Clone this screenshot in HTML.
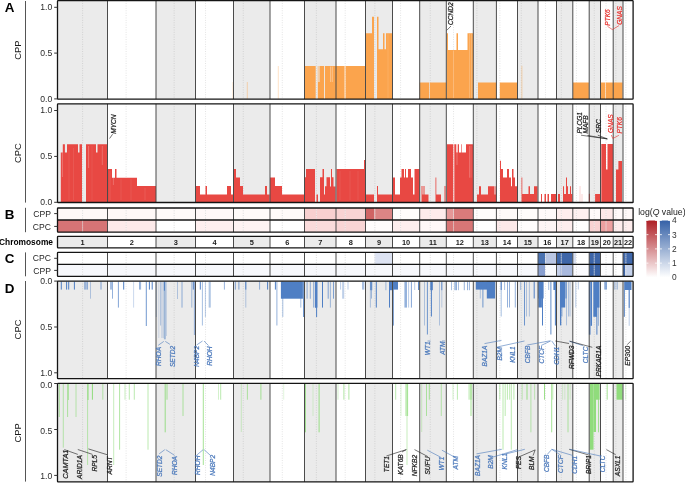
<!DOCTYPE html>
<html><head><meta charset="utf-8"><style>html,body{margin:0;padding:0;background:#fff;overflow:hidden}svg{display:block;will-change:transform}</style></head>
<body>
<svg width="685" height="483" viewBox="0 0 685 483" style="font-family:'Liberation Sans',sans-serif">
<rect x="0" y="0" width="685" height="483" fill="#fff"/>
<text x="4.8" y="11.9" font-size="13.4" fill="#000" text-anchor="start" font-weight="bold" font-style="normal">A</text>
<text x="4.8" y="218.9" font-size="13.4" fill="#000" text-anchor="start" font-weight="bold" font-style="normal">B</text>
<text x="4.8" y="263" font-size="13.4" fill="#000" text-anchor="start" font-weight="bold" font-style="normal">C</text>
<text x="4.8" y="292.8" font-size="13.4" fill="#000" text-anchor="start" font-weight="bold" font-style="normal">D</text>
<line x1="25.5" y1="1" x2="25.5" y2="202.6" stroke="#555" stroke-width="1"/>
<line x1="25.5" y1="207.8" x2="25.5" y2="232.2" stroke="#555" stroke-width="1"/>
<line x1="25.5" y1="252.4" x2="25.5" y2="276.3" stroke="#555" stroke-width="1"/>
<line x1="25.5" y1="281" x2="25.5" y2="481.6" stroke="#555" stroke-width="1"/>
<text transform="translate(20.88,50.2) rotate(-90)" font-size="9.4" fill="#1a1a1a" text-anchor="middle" font-weight="normal" font-style="normal">CPP</text>
<text transform="translate(20.88,153.1) rotate(-90)" font-size="9.4" fill="#1a1a1a" text-anchor="middle" font-weight="normal" font-style="normal">CPC</text>
<text transform="translate(20.88,329.5) rotate(-90)" font-size="9.4" fill="#1a1a1a" text-anchor="middle" font-weight="normal" font-style="normal">CPC</text>
<text transform="translate(20.88,432.8) rotate(-90)" font-size="9.4" fill="#1a1a1a" text-anchor="middle" font-weight="normal" font-style="normal">CPP</text>
<rect x="57.5" y="0.7" width="50" height="98.4" fill="#ebebeb"/>
<rect x="156" y="0.7" width="39.5" height="98.4" fill="#ebebeb"/>
<rect x="233.5" y="0.7" width="36.5" height="98.4" fill="#ebebeb"/>
<rect x="304.5" y="0.7" width="31.5" height="98.4" fill="#ebebeb"/>
<rect x="365.5" y="0.7" width="27" height="98.4" fill="#ebebeb"/>
<rect x="419.7" y="0.7" width="26.6" height="98.4" fill="#ebebeb"/>
<rect x="473.3" y="0.7" width="23.1" height="98.4" fill="#ebebeb"/>
<rect x="517.5" y="0.7" width="20.5" height="98.4" fill="#ebebeb"/>
<rect x="556.5" y="0.7" width="16.3" height="98.4" fill="#ebebeb"/>
<rect x="589.2" y="0.7" width="11.3" height="98.4" fill="#ebebeb"/>
<rect x="613.2" y="0.7" width="9.8" height="98.4" fill="#ebebeb"/>
<line x1="82.58" y1="0.7" x2="82.58" y2="99.1" stroke="#c4c4c4" stroke-width="0.7" stroke-dasharray="0.9 1.5"/>
<line x1="126.11" y1="0.7" x2="126.11" y2="99.1" stroke="#d4d4d4" stroke-width="0.7" stroke-dasharray="0.9 1.5"/>
<line x1="174.15" y1="0.7" x2="174.15" y2="99.1" stroke="#c4c4c4" stroke-width="0.7" stroke-dasharray="0.9 1.5"/>
<line x1="205.52" y1="0.7" x2="205.52" y2="99.1" stroke="#d4d4d4" stroke-width="0.7" stroke-dasharray="0.9 1.5"/>
<line x1="243.26" y1="0.7" x2="243.26" y2="99.1" stroke="#c4c4c4" stroke-width="0.7" stroke-dasharray="0.9 1.5"/>
<line x1="282.3" y1="0.7" x2="282.3" y2="99.1" stroke="#d4d4d4" stroke-width="0.7" stroke-dasharray="0.9 1.5"/>
<line x1="316.36" y1="0.7" x2="316.36" y2="99.1" stroke="#c4c4c4" stroke-width="0.7" stroke-dasharray="0.9 1.5"/>
<line x1="345.19" y1="0.7" x2="345.19" y2="99.1" stroke="#d4d4d4" stroke-width="0.7" stroke-dasharray="0.9 1.5"/>
<line x1="374.87" y1="0.7" x2="374.87" y2="99.1" stroke="#c4c4c4" stroke-width="0.7" stroke-dasharray="0.9 1.5"/>
<line x1="400.57" y1="0.7" x2="400.57" y2="99.1" stroke="#d4d4d4" stroke-width="0.7" stroke-dasharray="0.9 1.5"/>
<line x1="430.28" y1="0.7" x2="430.28" y2="99.1" stroke="#c4c4c4" stroke-width="0.7" stroke-dasharray="0.9 1.5"/>
<line x1="453.52" y1="0.7" x2="453.52" y2="99.1" stroke="#d4d4d4" stroke-width="0.7" stroke-dasharray="0.9 1.5"/>
<line x1="476.89" y1="0.7" x2="476.89" y2="99.1" stroke="#c4c4c4" stroke-width="0.7" stroke-dasharray="0.9 1.5"/>
<line x1="499.86" y1="0.7" x2="499.86" y2="99.1" stroke="#d4d4d4" stroke-width="0.7" stroke-dasharray="0.9 1.5"/>
<line x1="521.3" y1="0.7" x2="521.3" y2="99.1" stroke="#c4c4c4" stroke-width="0.7" stroke-dasharray="0.9 1.5"/>
<line x1="545.49" y1="0.7" x2="545.49" y2="99.1" stroke="#d4d4d4" stroke-width="0.7" stroke-dasharray="0.9 1.5"/>
<line x1="561.32" y1="0.7" x2="561.32" y2="99.1" stroke="#c4c4c4" stroke-width="0.7" stroke-dasharray="0.9 1.5"/>
<line x1="576.41" y1="0.7" x2="576.41" y2="99.1" stroke="#d4d4d4" stroke-width="0.7" stroke-dasharray="0.9 1.5"/>
<line x1="594.26" y1="0.7" x2="594.26" y2="99.1" stroke="#c4c4c4" stroke-width="0.7" stroke-dasharray="0.9 1.5"/>
<line x1="606.04" y1="0.7" x2="606.04" y2="99.1" stroke="#d4d4d4" stroke-width="0.7" stroke-dasharray="0.9 1.5"/>
<line x1="615.89" y1="0.7" x2="615.89" y2="99.1" stroke="#c4c4c4" stroke-width="0.7" stroke-dasharray="0.9 1.5"/>
<line x1="625.89" y1="0.7" x2="625.89" y2="99.1" stroke="#d4d4d4" stroke-width="0.7" stroke-dasharray="0.9 1.5"/>
<path d="M305 98.9H315.7V66H305ZM317.8 98.9H318.4V66H317.8ZM318.4 98.9H319.5V82H318.4ZM319.5 98.9H324V66H319.5ZM324.9 98.9H335.8V66H324.9ZM335.8 98.9H344.6V66H335.8ZM345.5 98.9H365.3V66H345.5ZM365.6 98.9H372V33.3H365.6ZM372 98.9H374V16.7H372ZM377 98.9H378.5V16.7H377ZM378.5 98.9H383V49.3H378.5ZM383 98.9H384.5V33.3H383ZM384.5 98.9H386V49.3H384.5ZM386 98.9H392.5V33.3H386ZM419.6 98.9H429V82.4H419.6ZM429.7 98.9H446.3V82.4H429.7ZM446.8 98.9H448V33.3H446.8ZM448 98.9H456.5V49.9H448ZM456.5 98.9H458V33.3H456.5ZM458 98.9H467.5V49.9H458ZM467.5 98.9H473.3V33.3H467.5ZM478 98.9H496.7V82.4H478ZM499.8 98.9H517.7V82.4H499.8ZM573 98.9H588.9V82.4H573ZM600.4 98.9H605V82.4H600.4ZM605.6 98.9H622.6V82.4H605.6Z" fill="#fba44d"/>
<line x1="521.9" y1="98.9" x2="521.9" y2="65.8" stroke="#fba44d" stroke-width="0.8" stroke-opacity="0.5"/>
<line x1="278.3" y1="98.9" x2="278.3" y2="66" stroke="#fba44d" stroke-width="0.8" stroke-opacity="0.4"/>
<line x1="232.8" y1="98.9" x2="232.8" y2="82" stroke="#fba44d" stroke-width="0.8" stroke-opacity="0.3"/>
<line x1="247.3" y1="98.9" x2="247.3" y2="82" stroke="#fba44d" stroke-width="0.8" stroke-opacity="0.5"/>
<line x1="330.6" y1="66.5" x2="330.6" y2="82" stroke="#ffffff" stroke-width="0.8" stroke-opacity="0.45"/>
<line x1="332.3" y1="66.5" x2="332.3" y2="82" stroke="#ffffff" stroke-width="0.8" stroke-opacity="0.45"/>
<line x1="388" y1="34" x2="388" y2="98" stroke="#ffffff" stroke-width="0.8" stroke-opacity="0.15"/>
<line x1="469.5" y1="34" x2="469.5" y2="98" stroke="#ffffff" stroke-width="0.8" stroke-opacity="0.25"/>
<line x1="471.5" y1="34" x2="471.5" y2="98" stroke="#ffffff" stroke-width="0.8" stroke-opacity="0.25"/>
<line x1="453.5" y1="50.5" x2="453.5" y2="98" stroke="#ffffff" stroke-width="0.8" stroke-opacity="0.3"/>
<line x1="107.5" y1="0.7" x2="107.5" y2="99.1" stroke="#4b4b4b" stroke-width="1"/>
<line x1="156" y1="0.7" x2="156" y2="99.1" stroke="#4b4b4b" stroke-width="1"/>
<line x1="195.5" y1="0.7" x2="195.5" y2="99.1" stroke="#4b4b4b" stroke-width="1"/>
<line x1="233.5" y1="0.7" x2="233.5" y2="99.1" stroke="#4b4b4b" stroke-width="1"/>
<line x1="270" y1="0.7" x2="270" y2="99.1" stroke="#4b4b4b" stroke-width="1"/>
<line x1="304.5" y1="0.7" x2="304.5" y2="99.1" stroke="#4b4b4b" stroke-width="1"/>
<line x1="336" y1="0.7" x2="336" y2="99.1" stroke="#4b4b4b" stroke-width="1"/>
<line x1="365.5" y1="0.7" x2="365.5" y2="99.1" stroke="#4b4b4b" stroke-width="1"/>
<line x1="392.5" y1="0.7" x2="392.5" y2="99.1" stroke="#4b4b4b" stroke-width="1"/>
<line x1="419.7" y1="0.7" x2="419.7" y2="99.1" stroke="#4b4b4b" stroke-width="1"/>
<line x1="446.3" y1="0.7" x2="446.3" y2="99.1" stroke="#4b4b4b" stroke-width="1"/>
<line x1="473.3" y1="0.7" x2="473.3" y2="99.1" stroke="#4b4b4b" stroke-width="1"/>
<line x1="496.4" y1="0.7" x2="496.4" y2="99.1" stroke="#4b4b4b" stroke-width="1"/>
<line x1="517.5" y1="0.7" x2="517.5" y2="99.1" stroke="#4b4b4b" stroke-width="1"/>
<line x1="538" y1="0.7" x2="538" y2="99.1" stroke="#4b4b4b" stroke-width="1"/>
<line x1="556.5" y1="0.7" x2="556.5" y2="99.1" stroke="#4b4b4b" stroke-width="1"/>
<line x1="572.8" y1="0.7" x2="572.8" y2="99.1" stroke="#4b4b4b" stroke-width="1"/>
<line x1="589.2" y1="0.7" x2="589.2" y2="99.1" stroke="#4b4b4b" stroke-width="1"/>
<line x1="600.5" y1="0.7" x2="600.5" y2="99.1" stroke="#4b4b4b" stroke-width="1"/>
<line x1="613.2" y1="0.7" x2="613.2" y2="99.1" stroke="#4b4b4b" stroke-width="1"/>
<line x1="623" y1="0.7" x2="623" y2="99.1" stroke="#4b4b4b" stroke-width="1"/>
<rect x="57.5" y="0.7" width="575.6" height="98.4" fill="none" stroke="#141414" stroke-width="1.3" rx="0.6"/>
<line x1="54.2" y1="7.3" x2="57.5" y2="7.3" stroke="#333" stroke-width="1"/>
<text transform="translate(52.2,10.08) scale(0.88,1)" font-size="9.8" fill="#2b2b2b" text-anchor="end" font-weight="normal" font-style="normal">1.0</text>
<line x1="54.2" y1="53.1" x2="57.5" y2="53.1" stroke="#333" stroke-width="1"/>
<text transform="translate(52.2,55.88) scale(0.88,1)" font-size="9.8" fill="#2b2b2b" text-anchor="end" font-weight="normal" font-style="normal">0.5</text>
<line x1="54.2" y1="98.9" x2="57.5" y2="98.9" stroke="#333" stroke-width="1"/>
<text transform="translate(52.2,101.68) scale(0.88,1)" font-size="9.8" fill="#2b2b2b" text-anchor="end" font-weight="normal" font-style="normal">0.0</text>
<text transform="translate(453.1,25) rotate(-90)" font-size="6.6" fill="#1a1a1a" text-anchor="start" font-weight="normal" font-style="italic" stroke="#1a1a1a" stroke-width="0.22">CCND2</text>
<path d="M451 26 L446.8 30.3" fill="none" stroke="#1a1a1a" stroke-width="0.6"/>
<text transform="translate(610.3,25.7) rotate(-90)" font-size="6.6" fill="#e8302c" text-anchor="start" font-weight="normal" font-style="italic" stroke="#e8302c" stroke-width="0.22">PTK6</text>
<text transform="translate(621.9,24.8) rotate(-90)" font-size="6.6" fill="#e8302c" text-anchor="start" font-weight="normal" font-style="italic" stroke="#e8302c" stroke-width="0.22">GNAS</text>
<path d="M607.5 26.3 L612.4 29.6 L619 25.6" fill="none" stroke="#e8302c" stroke-width="0.6"/>
<rect x="57.5" y="103.9" width="50" height="98.6" fill="#ebebeb"/>
<rect x="156" y="103.9" width="39.5" height="98.6" fill="#ebebeb"/>
<rect x="233.5" y="103.9" width="36.5" height="98.6" fill="#ebebeb"/>
<rect x="304.5" y="103.9" width="31.5" height="98.6" fill="#ebebeb"/>
<rect x="365.5" y="103.9" width="27" height="98.6" fill="#ebebeb"/>
<rect x="419.7" y="103.9" width="26.6" height="98.6" fill="#ebebeb"/>
<rect x="473.3" y="103.9" width="23.1" height="98.6" fill="#ebebeb"/>
<rect x="517.5" y="103.9" width="20.5" height="98.6" fill="#ebebeb"/>
<rect x="556.5" y="103.9" width="16.3" height="98.6" fill="#ebebeb"/>
<rect x="589.2" y="103.9" width="11.3" height="98.6" fill="#ebebeb"/>
<rect x="613.2" y="103.9" width="9.8" height="98.6" fill="#ebebeb"/>
<line x1="82.58" y1="103.9" x2="82.58" y2="202.5" stroke="#c4c4c4" stroke-width="0.7" stroke-dasharray="0.9 1.5"/>
<line x1="126.11" y1="103.9" x2="126.11" y2="202.5" stroke="#d4d4d4" stroke-width="0.7" stroke-dasharray="0.9 1.5"/>
<line x1="174.15" y1="103.9" x2="174.15" y2="202.5" stroke="#c4c4c4" stroke-width="0.7" stroke-dasharray="0.9 1.5"/>
<line x1="205.52" y1="103.9" x2="205.52" y2="202.5" stroke="#d4d4d4" stroke-width="0.7" stroke-dasharray="0.9 1.5"/>
<line x1="243.26" y1="103.9" x2="243.26" y2="202.5" stroke="#c4c4c4" stroke-width="0.7" stroke-dasharray="0.9 1.5"/>
<line x1="282.3" y1="103.9" x2="282.3" y2="202.5" stroke="#d4d4d4" stroke-width="0.7" stroke-dasharray="0.9 1.5"/>
<line x1="316.36" y1="103.9" x2="316.36" y2="202.5" stroke="#c4c4c4" stroke-width="0.7" stroke-dasharray="0.9 1.5"/>
<line x1="345.19" y1="103.9" x2="345.19" y2="202.5" stroke="#d4d4d4" stroke-width="0.7" stroke-dasharray="0.9 1.5"/>
<line x1="374.87" y1="103.9" x2="374.87" y2="202.5" stroke="#c4c4c4" stroke-width="0.7" stroke-dasharray="0.9 1.5"/>
<line x1="400.57" y1="103.9" x2="400.57" y2="202.5" stroke="#d4d4d4" stroke-width="0.7" stroke-dasharray="0.9 1.5"/>
<line x1="430.28" y1="103.9" x2="430.28" y2="202.5" stroke="#c4c4c4" stroke-width="0.7" stroke-dasharray="0.9 1.5"/>
<line x1="453.52" y1="103.9" x2="453.52" y2="202.5" stroke="#d4d4d4" stroke-width="0.7" stroke-dasharray="0.9 1.5"/>
<line x1="476.89" y1="103.9" x2="476.89" y2="202.5" stroke="#c4c4c4" stroke-width="0.7" stroke-dasharray="0.9 1.5"/>
<line x1="499.86" y1="103.9" x2="499.86" y2="202.5" stroke="#d4d4d4" stroke-width="0.7" stroke-dasharray="0.9 1.5"/>
<line x1="521.3" y1="103.9" x2="521.3" y2="202.5" stroke="#c4c4c4" stroke-width="0.7" stroke-dasharray="0.9 1.5"/>
<line x1="545.49" y1="103.9" x2="545.49" y2="202.5" stroke="#d4d4d4" stroke-width="0.7" stroke-dasharray="0.9 1.5"/>
<line x1="561.32" y1="103.9" x2="561.32" y2="202.5" stroke="#c4c4c4" stroke-width="0.7" stroke-dasharray="0.9 1.5"/>
<line x1="576.41" y1="103.9" x2="576.41" y2="202.5" stroke="#d4d4d4" stroke-width="0.7" stroke-dasharray="0.9 1.5"/>
<line x1="594.26" y1="103.9" x2="594.26" y2="202.5" stroke="#c4c4c4" stroke-width="0.7" stroke-dasharray="0.9 1.5"/>
<line x1="606.04" y1="103.9" x2="606.04" y2="202.5" stroke="#d4d4d4" stroke-width="0.7" stroke-dasharray="0.9 1.5"/>
<line x1="615.89" y1="103.9" x2="615.89" y2="202.5" stroke="#c4c4c4" stroke-width="0.7" stroke-dasharray="0.9 1.5"/>
<line x1="625.89" y1="103.9" x2="625.89" y2="202.5" stroke="#d4d4d4" stroke-width="0.7" stroke-dasharray="0.9 1.5"/>
<path d="M60.8 202.3H62.8V152.4H60.8ZM62.8 202.3H64.9V144.2H62.8ZM64.9 202.3H67V152.4H64.9ZM67 202.3H78V144.2H67ZM78 202.3H79.5V152.4H78ZM79.5 202.3H82V144.2H79.5ZM86 202.3H96V144.2H86ZM96 202.3H97.5V152.4H96ZM97.5 202.3H107.5V144.2H97.5ZM108 202.3H112V169.1H108ZM112 202.3H115V177.8H112ZM115 202.3H116.5V169.1H115ZM116.5 202.3H137V177.8H116.5ZM137 202.3H156V186H137ZM195.5 202.3H200V186H195.5ZM200 202.3H205.5V194.5H200ZM205.5 202.3H207V186H205.5ZM207 202.3H227V194.5H207ZM227 202.3H231V186H227ZM231 202.3H233.5V194.5H231ZM233.5 202.3H236V169H233.5ZM236 202.3H240V177.4H236ZM240 202.3H243V186H240ZM243 202.3H265V194.5H243ZM265 202.3H267V186H265ZM267 202.3H269.7V194.5H267ZM270 202.3H275V177.4H270ZM275 202.3H282V186H275ZM282 202.3H304.4V194.5H282ZM305 202.3H306V177.3H305ZM306 202.3H315V169.1H306ZM316.5 202.3H318V194.4H316.5ZM320 202.3H322.5V177.3H320ZM322.5 202.3H324V169.1H322.5ZM324 202.3H325V194.4H324ZM325 202.3H326.5V186.2H325ZM326.5 202.3H330V177.3H326.5ZM330 202.3H331V186.4H330ZM331 202.3H332V169.1H331ZM332 202.3H333.5V177.3H332ZM333.5 202.3H335.5V186.4H333.5ZM336.5 202.3H364V169H336.5ZM364 202.3H365.3V160H364ZM365.3 202.3H374V194.5H365.3ZM377 202.3H378V186H377ZM378 202.3H392.5V194.5H378ZM393 202.3H395V177.4H393ZM395 202.3H400V194.5H395ZM400 202.3H401.5V177.4H400ZM401.5 202.3H404V169.1H401.5ZM404 202.3H405V177.4H404ZM405 202.3H406V169.1H405ZM406 202.3H408V177.4H406ZM408 202.3H411V169.1H408ZM411 202.3H413V177.4H411ZM413 202.3H414.5V194.5H413ZM414.5 202.3H419.6V169.1H414.5ZM421.5 202.3H422.5V186H421.5ZM422.5 202.3H423.5V194.5H422.5ZM423.5 202.3H424.5V186H423.5ZM424.5 202.3H428.5V194.5H424.5ZM435.5 202.3H436.3V177.4H435.5ZM436.3 202.3H441V194.5H436.3ZM444.5 202.3H445.5V186H444.5ZM447 202.3H453.3V144.2H447ZM454.3 202.3H456.3V144.2H454.3ZM456.3 202.3H457.7V152.4H456.3ZM457.7 202.3H459V144.2H457.7ZM459 202.3H461.2V152.4H459ZM461.2 202.3H461.8V144.2H461.2ZM461.8 202.3H466V152.4H461.8ZM466 202.3H473.3V144.2H466ZM477 202.3H479V194.4H477ZM479 202.3H481V186.2H479ZM481 202.3H488V194.4H481ZM488 202.3H494.5V186.2H488ZM494.5 202.3H495.5V194.4H494.5ZM495.5 202.3H496.5V186.2H495.5ZM500 202.3H501V160.8H500ZM501 202.3H503V169.1H501ZM503 202.3H505.5V177.4H503ZM505.5 202.3H507V177.4H505.5ZM507 202.3H509V169.1H507ZM509 202.3H511V177.4H509ZM511 202.3H512V186.2H511ZM512 202.3H513.5V169.1H512ZM513.5 202.3H515V177.4H513.5ZM515 202.3H517.5V186.2H515ZM521.5 202.3H522.3V177.4H521.5ZM522.3 202.3H528.5V194.1H522.3ZM528.5 202.3H530V186.2H528.5ZM530 202.3H534V194.1H530ZM534 202.3H537.5V186.2H534ZM541 202.3H542V194.1H541ZM544.5 202.3H546V194.1H544.5ZM547.5 202.3H549V194.1H547.5ZM551 202.3H556V194.1H551ZM558 202.3H560V194.1H558ZM563 202.3H564V186.2H563ZM564 202.3H566V194.1H564ZM566 202.3H567V177.4H566ZM567 202.3H568V186.2H567ZM568 202.3H570V194.1H568ZM570 202.3H571V186.2H570ZM571 202.3H572.3V194.1H571ZM588.9 202.3H590V193.7H588.9ZM595.1 202.3H600.4V194H595.1ZM601.3 202.3H606V144H601.3ZM606 202.3H607.5V169.6H606ZM607.5 202.3H613V144H607.5ZM616 202.3H618.4V169.6H616ZM618.4 202.3H622V161H618.4Z" fill="#e84843"/>
<line x1="62.4" y1="152.4" x2="62.4" y2="177" stroke="#ffffff" stroke-width="0.7" stroke-opacity="0.35"/>
<line x1="69" y1="150" x2="69" y2="200" stroke="#ffffff" stroke-width="0.7" stroke-opacity="0.12"/>
<line x1="73.5" y1="148" x2="73.5" y2="200" stroke="#ffffff" stroke-width="0.7" stroke-opacity="0.12"/>
<line x1="88.6" y1="146" x2="88.6" y2="168" stroke="#ffffff" stroke-width="0.7" stroke-opacity="0.35"/>
<line x1="92" y1="146" x2="92" y2="200" stroke="#ffffff" stroke-width="0.7" stroke-opacity="0.1"/>
<line x1="102.3" y1="146" x2="102.3" y2="165" stroke="#ffffff" stroke-width="0.7" stroke-opacity="0.3"/>
<line x1="110" y1="171" x2="110" y2="200" stroke="#ffffff" stroke-width="0.7" stroke-opacity="0.15"/>
<line x1="113.4" y1="171" x2="113.4" y2="185" stroke="#ffffff" stroke-width="0.7" stroke-opacity="0.3"/>
<line x1="121" y1="179" x2="121" y2="200" stroke="#ffffff" stroke-width="0.7" stroke-opacity="0.12"/>
<line x1="131" y1="179" x2="131" y2="200" stroke="#ffffff" stroke-width="0.7" stroke-opacity="0.12"/>
<line x1="145" y1="188" x2="145" y2="200" stroke="#ffffff" stroke-width="0.7" stroke-opacity="0.15"/>
<line x1="457" y1="153" x2="457" y2="165" stroke="#ffffff" stroke-width="0.7" stroke-opacity="0.35"/>
<line x1="469.5" y1="146" x2="469.5" y2="177.7" stroke="#ffffff" stroke-width="0.7" stroke-opacity="0.3"/>
<line x1="471" y1="146" x2="471" y2="177.7" stroke="#ffffff" stroke-width="0.7" stroke-opacity="0.25"/>
<line x1="340" y1="171" x2="340" y2="200" stroke="#ffffff" stroke-width="0.7" stroke-opacity="0.12"/>
<line x1="350" y1="171" x2="350" y2="200" stroke="#ffffff" stroke-width="0.7" stroke-opacity="0.12"/>
<line x1="358" y1="171" x2="358" y2="200" stroke="#ffffff" stroke-width="0.7" stroke-opacity="0.12"/>
<line x1="580" y1="202.3" x2="580" y2="186" stroke="#e84843" stroke-width="0.8" stroke-opacity="0.3"/>
<line x1="582" y1="202.3" x2="582" y2="194" stroke="#e84843" stroke-width="0.8" stroke-opacity="0.3"/>
<line x1="107.5" y1="103.9" x2="107.5" y2="202.5" stroke="#4b4b4b" stroke-width="1"/>
<line x1="156" y1="103.9" x2="156" y2="202.5" stroke="#4b4b4b" stroke-width="1"/>
<line x1="195.5" y1="103.9" x2="195.5" y2="202.5" stroke="#4b4b4b" stroke-width="1"/>
<line x1="233.5" y1="103.9" x2="233.5" y2="202.5" stroke="#4b4b4b" stroke-width="1"/>
<line x1="270" y1="103.9" x2="270" y2="202.5" stroke="#4b4b4b" stroke-width="1"/>
<line x1="304.5" y1="103.9" x2="304.5" y2="202.5" stroke="#4b4b4b" stroke-width="1"/>
<line x1="336" y1="103.9" x2="336" y2="202.5" stroke="#4b4b4b" stroke-width="1"/>
<line x1="365.5" y1="103.9" x2="365.5" y2="202.5" stroke="#4b4b4b" stroke-width="1"/>
<line x1="392.5" y1="103.9" x2="392.5" y2="202.5" stroke="#4b4b4b" stroke-width="1"/>
<line x1="419.7" y1="103.9" x2="419.7" y2="202.5" stroke="#4b4b4b" stroke-width="1"/>
<line x1="446.3" y1="103.9" x2="446.3" y2="202.5" stroke="#4b4b4b" stroke-width="1"/>
<line x1="473.3" y1="103.9" x2="473.3" y2="202.5" stroke="#4b4b4b" stroke-width="1"/>
<line x1="496.4" y1="103.9" x2="496.4" y2="202.5" stroke="#4b4b4b" stroke-width="1"/>
<line x1="517.5" y1="103.9" x2="517.5" y2="202.5" stroke="#4b4b4b" stroke-width="1"/>
<line x1="538" y1="103.9" x2="538" y2="202.5" stroke="#4b4b4b" stroke-width="1"/>
<line x1="556.5" y1="103.9" x2="556.5" y2="202.5" stroke="#4b4b4b" stroke-width="1"/>
<line x1="572.8" y1="103.9" x2="572.8" y2="202.5" stroke="#4b4b4b" stroke-width="1"/>
<line x1="589.2" y1="103.9" x2="589.2" y2="202.5" stroke="#4b4b4b" stroke-width="1"/>
<line x1="600.5" y1="103.9" x2="600.5" y2="202.5" stroke="#4b4b4b" stroke-width="1"/>
<line x1="613.2" y1="103.9" x2="613.2" y2="202.5" stroke="#4b4b4b" stroke-width="1"/>
<line x1="623" y1="103.9" x2="623" y2="202.5" stroke="#4b4b4b" stroke-width="1"/>
<rect x="57.5" y="103.9" width="575.6" height="98.6" fill="none" stroke="#141414" stroke-width="1.3" rx="0.6"/>
<line x1="54.2" y1="110.5" x2="57.5" y2="110.5" stroke="#333" stroke-width="1"/>
<text transform="translate(52.2,113.28) scale(0.88,1)" font-size="9.8" fill="#2b2b2b" text-anchor="end" font-weight="normal" font-style="normal">1.0</text>
<line x1="54.2" y1="156.4" x2="57.5" y2="156.4" stroke="#333" stroke-width="1"/>
<text transform="translate(52.2,159.18) scale(0.88,1)" font-size="9.8" fill="#2b2b2b" text-anchor="end" font-weight="normal" font-style="normal">0.5</text>
<line x1="54.2" y1="202.3" x2="57.5" y2="202.3" stroke="#333" stroke-width="1"/>
<text transform="translate(52.2,205.08) scale(0.88,1)" font-size="9.8" fill="#2b2b2b" text-anchor="end" font-weight="normal" font-style="normal">0.0</text>
<text transform="translate(116.3,133.8) rotate(-90)" font-size="6.6" fill="#1a1a1a" text-anchor="start" font-weight="normal" font-style="italic" stroke="#1a1a1a" stroke-width="0.22">MYCN</text>
<path d="M112.6 134.2 L109.6 138.5" fill="none" stroke="#1a1a1a" stroke-width="0.6"/>
<text transform="translate(581.9,133.6) rotate(-90)" font-size="6.6" fill="#1a1a1a" text-anchor="start" font-weight="normal" font-style="italic" stroke="#1a1a1a" stroke-width="0.22">PLCG1</text>
<text transform="translate(588.1,133.6) rotate(-90)" font-size="6.6" fill="#1a1a1a" text-anchor="start" font-weight="normal" font-style="italic" stroke="#1a1a1a" stroke-width="0.22">MAFB</text>
<text transform="translate(600.5,133.1) rotate(-90)" font-size="6.6" fill="#1a1a1a" text-anchor="start" font-weight="normal" font-style="italic" stroke="#1a1a1a" stroke-width="0.22">SRC</text>
<path d="M581 135.2 L607.3 138.9" fill="none" stroke="#1a1a1a" stroke-width="0.6"/>
<path d="M587.4 135.4 L607.3 138.9" fill="none" stroke="#1a1a1a" stroke-width="0.6"/>
<path d="M597.8 135.2 L607.3 138.9" fill="none" stroke="#1a1a1a" stroke-width="0.6"/>
<text transform="translate(613,133) rotate(-90)" font-size="6.6" fill="#e8302c" text-anchor="start" font-weight="normal" font-style="italic" stroke="#e8302c" stroke-width="0.22">GNAS</text>
<text transform="translate(621.8,133.6) rotate(-90)" font-size="6.6" fill="#e8302c" text-anchor="start" font-weight="normal" font-style="italic" stroke="#e8302c" stroke-width="0.22">PTK6</text>
<path d="M611.3 135 L612.8 138.5 L618.9 135.3" fill="none" stroke="#e8302c" stroke-width="0.6"/>
<rect x="57.5" y="208" width="50" height="12" fill="#fef8f7"/>
<rect x="107.5" y="208" width="48.5" height="12" fill="#fff8f7"/>
<rect x="156" y="208" width="39.5" height="12" fill="#fffaf9"/>
<rect x="195.5" y="208" width="38" height="12" fill="#fff8f8"/>
<rect x="233.5" y="208" width="36.5" height="12" fill="#fffaf9"/>
<rect x="270" y="208" width="34.5" height="12" fill="#fffaf9"/>
<rect x="304.5" y="208" width="31.5" height="12" fill="#f8d0d0"/>
<rect x="336" y="208" width="29.5" height="12" fill="#f9d3d3"/>
<rect x="365.5" y="208" width="9" height="12" fill="#d06464"/>
<rect x="374.5" y="208" width="18" height="12" fill="#dc8585"/>
<rect x="392.5" y="208" width="27.2" height="12" fill="#fffcfb"/>
<rect x="419.7" y="208" width="26.6" height="12" fill="#fdebeb"/>
<rect x="446.3" y="208" width="7.2" height="12" fill="#e59797"/>
<rect x="453.5" y="208" width="19.8" height="12" fill="#da7b7b"/>
<rect x="473.3" y="208" width="23.1" height="12" fill="#fffcfb"/>
<rect x="496.4" y="208" width="21.1" height="12" fill="#fffaf9"/>
<rect x="517.5" y="208" width="20.5" height="12" fill="#fffcfb"/>
<rect x="538" y="208" width="18.5" height="12" fill="#fffafa"/>
<rect x="556.5" y="208" width="16.3" height="12" fill="#feeeee"/>
<rect x="572.8" y="208" width="16.4" height="12" fill="#fef0f0"/>
<rect x="589.2" y="208" width="11.3" height="12" fill="#fffbfb"/>
<rect x="600.5" y="208" width="12.7" height="12" fill="#fde8e8"/>
<rect x="613.2" y="208" width="9.8" height="12" fill="#fff9f9"/>
<rect x="623" y="208" width="10.1" height="12" fill="#fff9f9"/>
<line x1="82.58" y1="208" x2="82.58" y2="220" stroke="#ffffff" stroke-width="0.9" stroke-opacity="0.45"/>
<line x1="82.58" y1="208" x2="82.58" y2="220" stroke="#c8c8c8" stroke-width="0.7" stroke-dasharray="0.9 1.5"/>
<line x1="126.11" y1="208" x2="126.11" y2="220" stroke="#ffffff" stroke-width="0.9" stroke-opacity="0.45"/>
<line x1="126.11" y1="208" x2="126.11" y2="220" stroke="#c8c8c8" stroke-width="0.7" stroke-dasharray="0.9 1.5"/>
<line x1="174.15" y1="208" x2="174.15" y2="220" stroke="#ffffff" stroke-width="0.9" stroke-opacity="0.45"/>
<line x1="174.15" y1="208" x2="174.15" y2="220" stroke="#c8c8c8" stroke-width="0.7" stroke-dasharray="0.9 1.5"/>
<line x1="205.52" y1="208" x2="205.52" y2="220" stroke="#ffffff" stroke-width="0.9" stroke-opacity="0.45"/>
<line x1="205.52" y1="208" x2="205.52" y2="220" stroke="#c8c8c8" stroke-width="0.7" stroke-dasharray="0.9 1.5"/>
<line x1="243.26" y1="208" x2="243.26" y2="220" stroke="#ffffff" stroke-width="0.9" stroke-opacity="0.45"/>
<line x1="243.26" y1="208" x2="243.26" y2="220" stroke="#c8c8c8" stroke-width="0.7" stroke-dasharray="0.9 1.5"/>
<line x1="282.3" y1="208" x2="282.3" y2="220" stroke="#ffffff" stroke-width="0.9" stroke-opacity="0.45"/>
<line x1="282.3" y1="208" x2="282.3" y2="220" stroke="#c8c8c8" stroke-width="0.7" stroke-dasharray="0.9 1.5"/>
<line x1="316.36" y1="208" x2="316.36" y2="220" stroke="#ffffff" stroke-width="0.9" stroke-opacity="0.45"/>
<line x1="316.36" y1="208" x2="316.36" y2="220" stroke="#c8c8c8" stroke-width="0.7" stroke-dasharray="0.9 1.5"/>
<line x1="345.19" y1="208" x2="345.19" y2="220" stroke="#ffffff" stroke-width="0.9" stroke-opacity="0.45"/>
<line x1="345.19" y1="208" x2="345.19" y2="220" stroke="#c8c8c8" stroke-width="0.7" stroke-dasharray="0.9 1.5"/>
<line x1="374.87" y1="208" x2="374.87" y2="220" stroke="#ffffff" stroke-width="0.9" stroke-opacity="0.45"/>
<line x1="374.87" y1="208" x2="374.87" y2="220" stroke="#c8c8c8" stroke-width="0.7" stroke-dasharray="0.9 1.5"/>
<line x1="400.57" y1="208" x2="400.57" y2="220" stroke="#ffffff" stroke-width="0.9" stroke-opacity="0.45"/>
<line x1="400.57" y1="208" x2="400.57" y2="220" stroke="#c8c8c8" stroke-width="0.7" stroke-dasharray="0.9 1.5"/>
<line x1="430.28" y1="208" x2="430.28" y2="220" stroke="#ffffff" stroke-width="0.9" stroke-opacity="0.45"/>
<line x1="430.28" y1="208" x2="430.28" y2="220" stroke="#c8c8c8" stroke-width="0.7" stroke-dasharray="0.9 1.5"/>
<line x1="453.52" y1="208" x2="453.52" y2="220" stroke="#ffffff" stroke-width="0.9" stroke-opacity="0.45"/>
<line x1="453.52" y1="208" x2="453.52" y2="220" stroke="#c8c8c8" stroke-width="0.7" stroke-dasharray="0.9 1.5"/>
<line x1="476.89" y1="208" x2="476.89" y2="220" stroke="#ffffff" stroke-width="0.9" stroke-opacity="0.45"/>
<line x1="476.89" y1="208" x2="476.89" y2="220" stroke="#c8c8c8" stroke-width="0.7" stroke-dasharray="0.9 1.5"/>
<line x1="499.86" y1="208" x2="499.86" y2="220" stroke="#ffffff" stroke-width="0.9" stroke-opacity="0.45"/>
<line x1="499.86" y1="208" x2="499.86" y2="220" stroke="#c8c8c8" stroke-width="0.7" stroke-dasharray="0.9 1.5"/>
<line x1="521.3" y1="208" x2="521.3" y2="220" stroke="#ffffff" stroke-width="0.9" stroke-opacity="0.45"/>
<line x1="521.3" y1="208" x2="521.3" y2="220" stroke="#c8c8c8" stroke-width="0.7" stroke-dasharray="0.9 1.5"/>
<line x1="545.49" y1="208" x2="545.49" y2="220" stroke="#ffffff" stroke-width="0.9" stroke-opacity="0.45"/>
<line x1="545.49" y1="208" x2="545.49" y2="220" stroke="#c8c8c8" stroke-width="0.7" stroke-dasharray="0.9 1.5"/>
<line x1="561.32" y1="208" x2="561.32" y2="220" stroke="#ffffff" stroke-width="0.9" stroke-opacity="0.45"/>
<line x1="561.32" y1="208" x2="561.32" y2="220" stroke="#c8c8c8" stroke-width="0.7" stroke-dasharray="0.9 1.5"/>
<line x1="576.41" y1="208" x2="576.41" y2="220" stroke="#ffffff" stroke-width="0.9" stroke-opacity="0.45"/>
<line x1="576.41" y1="208" x2="576.41" y2="220" stroke="#c8c8c8" stroke-width="0.7" stroke-dasharray="0.9 1.5"/>
<line x1="594.26" y1="208" x2="594.26" y2="220" stroke="#ffffff" stroke-width="0.9" stroke-opacity="0.45"/>
<line x1="594.26" y1="208" x2="594.26" y2="220" stroke="#c8c8c8" stroke-width="0.7" stroke-dasharray="0.9 1.5"/>
<line x1="606.04" y1="208" x2="606.04" y2="220" stroke="#ffffff" stroke-width="0.9" stroke-opacity="0.45"/>
<line x1="606.04" y1="208" x2="606.04" y2="220" stroke="#c8c8c8" stroke-width="0.7" stroke-dasharray="0.9 1.5"/>
<line x1="615.89" y1="208" x2="615.89" y2="220" stroke="#ffffff" stroke-width="0.9" stroke-opacity="0.45"/>
<line x1="615.89" y1="208" x2="615.89" y2="220" stroke="#c8c8c8" stroke-width="0.7" stroke-dasharray="0.9 1.5"/>
<line x1="625.89" y1="208" x2="625.89" y2="220" stroke="#ffffff" stroke-width="0.9" stroke-opacity="0.45"/>
<line x1="625.89" y1="208" x2="625.89" y2="220" stroke="#c8c8c8" stroke-width="0.7" stroke-dasharray="0.9 1.5"/>
<rect x="57.5" y="220" width="50" height="12.2" fill="#d67475"/>
<rect x="107.5" y="220" width="48.5" height="12.2" fill="#fdeaea"/>
<rect x="156" y="220" width="39.5" height="12.2" fill="#ffffff"/>
<rect x="195.5" y="220" width="38" height="12.2" fill="#feefef"/>
<rect x="233.5" y="220" width="36.5" height="12.2" fill="#fef3f3"/>
<rect x="270" y="220" width="34.5" height="12.2" fill="#ffffff"/>
<rect x="304.5" y="220" width="31.5" height="12.2" fill="#fadbdb"/>
<rect x="336" y="220" width="29.5" height="12.2" fill="#f9d5d5"/>
<rect x="365.5" y="220" width="27" height="12.2" fill="#fffcfc"/>
<rect x="392.5" y="220" width="27.2" height="12.2" fill="#fdeeee"/>
<rect x="419.7" y="220" width="26.6" height="12.2" fill="#fff8f8"/>
<rect x="446.3" y="220" width="27" height="12.2" fill="#d87676"/>
<rect x="473.3" y="220" width="23.1" height="12.2" fill="#ffffff"/>
<rect x="496.4" y="220" width="21.1" height="12.2" fill="#fce8e8"/>
<rect x="517.5" y="220" width="20.5" height="12.2" fill="#fffcfc"/>
<rect x="538" y="220" width="18.5" height="12.2" fill="#fef4f4"/>
<rect x="556.5" y="220" width="16.3" height="12.2" fill="#fdeded"/>
<rect x="572.8" y="220" width="16.4" height="12.2" fill="#ffffff"/>
<rect x="589.2" y="220" width="11.3" height="12.2" fill="#f9d2d2"/>
<rect x="600.5" y="220" width="12.7" height="12.2" fill="#eda0a0"/>
<rect x="613.2" y="220" width="9.8" height="12.2" fill="#fdecec"/>
<rect x="623" y="220" width="10.1" height="12.2" fill="#feeded"/>
<line x1="82.58" y1="220" x2="82.58" y2="232.2" stroke="#ffffff" stroke-width="0.9" stroke-opacity="0.45"/>
<line x1="82.58" y1="220" x2="82.58" y2="232.2" stroke="#c8c8c8" stroke-width="0.7" stroke-dasharray="0.9 1.5"/>
<line x1="126.11" y1="220" x2="126.11" y2="232.2" stroke="#ffffff" stroke-width="0.9" stroke-opacity="0.45"/>
<line x1="126.11" y1="220" x2="126.11" y2="232.2" stroke="#c8c8c8" stroke-width="0.7" stroke-dasharray="0.9 1.5"/>
<line x1="174.15" y1="220" x2="174.15" y2="232.2" stroke="#ffffff" stroke-width="0.9" stroke-opacity="0.45"/>
<line x1="174.15" y1="220" x2="174.15" y2="232.2" stroke="#c8c8c8" stroke-width="0.7" stroke-dasharray="0.9 1.5"/>
<line x1="205.52" y1="220" x2="205.52" y2="232.2" stroke="#ffffff" stroke-width="0.9" stroke-opacity="0.45"/>
<line x1="205.52" y1="220" x2="205.52" y2="232.2" stroke="#c8c8c8" stroke-width="0.7" stroke-dasharray="0.9 1.5"/>
<line x1="243.26" y1="220" x2="243.26" y2="232.2" stroke="#ffffff" stroke-width="0.9" stroke-opacity="0.45"/>
<line x1="243.26" y1="220" x2="243.26" y2="232.2" stroke="#c8c8c8" stroke-width="0.7" stroke-dasharray="0.9 1.5"/>
<line x1="282.3" y1="220" x2="282.3" y2="232.2" stroke="#ffffff" stroke-width="0.9" stroke-opacity="0.45"/>
<line x1="282.3" y1="220" x2="282.3" y2="232.2" stroke="#c8c8c8" stroke-width="0.7" stroke-dasharray="0.9 1.5"/>
<line x1="316.36" y1="220" x2="316.36" y2="232.2" stroke="#ffffff" stroke-width="0.9" stroke-opacity="0.45"/>
<line x1="316.36" y1="220" x2="316.36" y2="232.2" stroke="#c8c8c8" stroke-width="0.7" stroke-dasharray="0.9 1.5"/>
<line x1="345.19" y1="220" x2="345.19" y2="232.2" stroke="#ffffff" stroke-width="0.9" stroke-opacity="0.45"/>
<line x1="345.19" y1="220" x2="345.19" y2="232.2" stroke="#c8c8c8" stroke-width="0.7" stroke-dasharray="0.9 1.5"/>
<line x1="374.87" y1="220" x2="374.87" y2="232.2" stroke="#ffffff" stroke-width="0.9" stroke-opacity="0.45"/>
<line x1="374.87" y1="220" x2="374.87" y2="232.2" stroke="#c8c8c8" stroke-width="0.7" stroke-dasharray="0.9 1.5"/>
<line x1="400.57" y1="220" x2="400.57" y2="232.2" stroke="#ffffff" stroke-width="0.9" stroke-opacity="0.45"/>
<line x1="400.57" y1="220" x2="400.57" y2="232.2" stroke="#c8c8c8" stroke-width="0.7" stroke-dasharray="0.9 1.5"/>
<line x1="430.28" y1="220" x2="430.28" y2="232.2" stroke="#ffffff" stroke-width="0.9" stroke-opacity="0.45"/>
<line x1="430.28" y1="220" x2="430.28" y2="232.2" stroke="#c8c8c8" stroke-width="0.7" stroke-dasharray="0.9 1.5"/>
<line x1="453.52" y1="220" x2="453.52" y2="232.2" stroke="#ffffff" stroke-width="0.9" stroke-opacity="0.45"/>
<line x1="453.52" y1="220" x2="453.52" y2="232.2" stroke="#c8c8c8" stroke-width="0.7" stroke-dasharray="0.9 1.5"/>
<line x1="476.89" y1="220" x2="476.89" y2="232.2" stroke="#ffffff" stroke-width="0.9" stroke-opacity="0.45"/>
<line x1="476.89" y1="220" x2="476.89" y2="232.2" stroke="#c8c8c8" stroke-width="0.7" stroke-dasharray="0.9 1.5"/>
<line x1="499.86" y1="220" x2="499.86" y2="232.2" stroke="#ffffff" stroke-width="0.9" stroke-opacity="0.45"/>
<line x1="499.86" y1="220" x2="499.86" y2="232.2" stroke="#c8c8c8" stroke-width="0.7" stroke-dasharray="0.9 1.5"/>
<line x1="521.3" y1="220" x2="521.3" y2="232.2" stroke="#ffffff" stroke-width="0.9" stroke-opacity="0.45"/>
<line x1="521.3" y1="220" x2="521.3" y2="232.2" stroke="#c8c8c8" stroke-width="0.7" stroke-dasharray="0.9 1.5"/>
<line x1="545.49" y1="220" x2="545.49" y2="232.2" stroke="#ffffff" stroke-width="0.9" stroke-opacity="0.45"/>
<line x1="545.49" y1="220" x2="545.49" y2="232.2" stroke="#c8c8c8" stroke-width="0.7" stroke-dasharray="0.9 1.5"/>
<line x1="561.32" y1="220" x2="561.32" y2="232.2" stroke="#ffffff" stroke-width="0.9" stroke-opacity="0.45"/>
<line x1="561.32" y1="220" x2="561.32" y2="232.2" stroke="#c8c8c8" stroke-width="0.7" stroke-dasharray="0.9 1.5"/>
<line x1="576.41" y1="220" x2="576.41" y2="232.2" stroke="#ffffff" stroke-width="0.9" stroke-opacity="0.45"/>
<line x1="576.41" y1="220" x2="576.41" y2="232.2" stroke="#c8c8c8" stroke-width="0.7" stroke-dasharray="0.9 1.5"/>
<line x1="594.26" y1="220" x2="594.26" y2="232.2" stroke="#ffffff" stroke-width="0.9" stroke-opacity="0.45"/>
<line x1="594.26" y1="220" x2="594.26" y2="232.2" stroke="#c8c8c8" stroke-width="0.7" stroke-dasharray="0.9 1.5"/>
<line x1="606.04" y1="220" x2="606.04" y2="232.2" stroke="#ffffff" stroke-width="0.9" stroke-opacity="0.45"/>
<line x1="606.04" y1="220" x2="606.04" y2="232.2" stroke="#c8c8c8" stroke-width="0.7" stroke-dasharray="0.9 1.5"/>
<line x1="615.89" y1="220" x2="615.89" y2="232.2" stroke="#ffffff" stroke-width="0.9" stroke-opacity="0.45"/>
<line x1="615.89" y1="220" x2="615.89" y2="232.2" stroke="#c8c8c8" stroke-width="0.7" stroke-dasharray="0.9 1.5"/>
<line x1="625.89" y1="220" x2="625.89" y2="232.2" stroke="#ffffff" stroke-width="0.9" stroke-opacity="0.45"/>
<line x1="625.89" y1="220" x2="625.89" y2="232.2" stroke="#c8c8c8" stroke-width="0.7" stroke-dasharray="0.9 1.5"/>
<line x1="107.5" y1="208" x2="107.5" y2="232.2" stroke="#4b4b4b" stroke-width="1"/>
<line x1="156" y1="208" x2="156" y2="232.2" stroke="#4b4b4b" stroke-width="1"/>
<line x1="195.5" y1="208" x2="195.5" y2="232.2" stroke="#4b4b4b" stroke-width="1"/>
<line x1="233.5" y1="208" x2="233.5" y2="232.2" stroke="#4b4b4b" stroke-width="1"/>
<line x1="270" y1="208" x2="270" y2="232.2" stroke="#4b4b4b" stroke-width="1"/>
<line x1="304.5" y1="208" x2="304.5" y2="232.2" stroke="#4b4b4b" stroke-width="1"/>
<line x1="336" y1="208" x2="336" y2="232.2" stroke="#4b4b4b" stroke-width="1"/>
<line x1="365.5" y1="208" x2="365.5" y2="232.2" stroke="#4b4b4b" stroke-width="1"/>
<line x1="392.5" y1="208" x2="392.5" y2="232.2" stroke="#4b4b4b" stroke-width="1"/>
<line x1="419.7" y1="208" x2="419.7" y2="232.2" stroke="#4b4b4b" stroke-width="1"/>
<line x1="446.3" y1="208" x2="446.3" y2="232.2" stroke="#4b4b4b" stroke-width="1"/>
<line x1="473.3" y1="208" x2="473.3" y2="232.2" stroke="#4b4b4b" stroke-width="1"/>
<line x1="496.4" y1="208" x2="496.4" y2="232.2" stroke="#4b4b4b" stroke-width="1"/>
<line x1="517.5" y1="208" x2="517.5" y2="232.2" stroke="#4b4b4b" stroke-width="1"/>
<line x1="538" y1="208" x2="538" y2="232.2" stroke="#4b4b4b" stroke-width="1"/>
<line x1="556.5" y1="208" x2="556.5" y2="232.2" stroke="#4b4b4b" stroke-width="1"/>
<line x1="572.8" y1="208" x2="572.8" y2="232.2" stroke="#4b4b4b" stroke-width="1"/>
<line x1="589.2" y1="208" x2="589.2" y2="232.2" stroke="#4b4b4b" stroke-width="1"/>
<line x1="600.5" y1="208" x2="600.5" y2="232.2" stroke="#4b4b4b" stroke-width="1"/>
<line x1="613.2" y1="208" x2="613.2" y2="232.2" stroke="#4b4b4b" stroke-width="1"/>
<line x1="623" y1="208" x2="623" y2="232.2" stroke="#4b4b4b" stroke-width="1"/>
<line x1="57.5" y1="220" x2="633.1" y2="220" stroke="#141414" stroke-width="1.3"/>
<rect x="57.5" y="208" width="575.6" height="24.2" fill="none" stroke="#141414" stroke-width="1.3" rx="0.6"/>
<line x1="54.2" y1="213.6" x2="57.5" y2="213.6" stroke="#333" stroke-width="1"/>
<text x="51" y="216.7" font-size="8.6" fill="#262626" text-anchor="end" font-weight="normal" font-style="normal">CPP</text>
<line x1="54.2" y1="226.4" x2="57.5" y2="226.4" stroke="#333" stroke-width="1"/>
<text x="51" y="229.5" font-size="8.6" fill="#262626" text-anchor="end" font-weight="normal" font-style="normal">CPC</text>
<rect x="57.5" y="236.3" width="50" height="11.6" fill="#ebebeb"/>
<rect x="156" y="236.3" width="39.5" height="11.6" fill="#ebebeb"/>
<rect x="233.5" y="236.3" width="36.5" height="11.6" fill="#ebebeb"/>
<rect x="304.5" y="236.3" width="31.5" height="11.6" fill="#ebebeb"/>
<rect x="365.5" y="236.3" width="27" height="11.6" fill="#ebebeb"/>
<rect x="419.7" y="236.3" width="26.6" height="11.6" fill="#ebebeb"/>
<rect x="473.3" y="236.3" width="23.1" height="11.6" fill="#ebebeb"/>
<rect x="517.5" y="236.3" width="20.5" height="11.6" fill="#ebebeb"/>
<rect x="556.5" y="236.3" width="16.3" height="11.6" fill="#ebebeb"/>
<rect x="589.2" y="236.3" width="11.3" height="11.6" fill="#ebebeb"/>
<rect x="613.2" y="236.3" width="9.8" height="11.6" fill="#ebebeb"/>
<line x1="107.5" y1="236.3" x2="107.5" y2="247.9" stroke="#4b4b4b" stroke-width="1"/>
<line x1="156" y1="236.3" x2="156" y2="247.9" stroke="#4b4b4b" stroke-width="1"/>
<line x1="195.5" y1="236.3" x2="195.5" y2="247.9" stroke="#4b4b4b" stroke-width="1"/>
<line x1="233.5" y1="236.3" x2="233.5" y2="247.9" stroke="#4b4b4b" stroke-width="1"/>
<line x1="270" y1="236.3" x2="270" y2="247.9" stroke="#4b4b4b" stroke-width="1"/>
<line x1="304.5" y1="236.3" x2="304.5" y2="247.9" stroke="#4b4b4b" stroke-width="1"/>
<line x1="336" y1="236.3" x2="336" y2="247.9" stroke="#4b4b4b" stroke-width="1"/>
<line x1="365.5" y1="236.3" x2="365.5" y2="247.9" stroke="#4b4b4b" stroke-width="1"/>
<line x1="392.5" y1="236.3" x2="392.5" y2="247.9" stroke="#4b4b4b" stroke-width="1"/>
<line x1="419.7" y1="236.3" x2="419.7" y2="247.9" stroke="#4b4b4b" stroke-width="1"/>
<line x1="446.3" y1="236.3" x2="446.3" y2="247.9" stroke="#4b4b4b" stroke-width="1"/>
<line x1="473.3" y1="236.3" x2="473.3" y2="247.9" stroke="#4b4b4b" stroke-width="1"/>
<line x1="496.4" y1="236.3" x2="496.4" y2="247.9" stroke="#4b4b4b" stroke-width="1"/>
<line x1="517.5" y1="236.3" x2="517.5" y2="247.9" stroke="#4b4b4b" stroke-width="1"/>
<line x1="538" y1="236.3" x2="538" y2="247.9" stroke="#4b4b4b" stroke-width="1"/>
<line x1="556.5" y1="236.3" x2="556.5" y2="247.9" stroke="#4b4b4b" stroke-width="1"/>
<line x1="572.8" y1="236.3" x2="572.8" y2="247.9" stroke="#4b4b4b" stroke-width="1"/>
<line x1="589.2" y1="236.3" x2="589.2" y2="247.9" stroke="#4b4b4b" stroke-width="1"/>
<line x1="600.5" y1="236.3" x2="600.5" y2="247.9" stroke="#4b4b4b" stroke-width="1"/>
<line x1="613.2" y1="236.3" x2="613.2" y2="247.9" stroke="#4b4b4b" stroke-width="1"/>
<line x1="623" y1="236.3" x2="623" y2="247.9" stroke="#4b4b4b" stroke-width="1"/>
<rect x="57.5" y="236.3" width="575.6" height="11.6" fill="none" stroke="#141414" stroke-width="1.3" rx="0.6"/>
<text x="82.5" y="245.2" font-size="7.4" fill="#1a1a1a" text-anchor="middle" font-weight="bold" font-style="normal">1</text>
<text x="131.75" y="245.2" font-size="7.4" fill="#1a1a1a" text-anchor="middle" font-weight="bold" font-style="normal">2</text>
<text x="175.75" y="245.2" font-size="7.4" fill="#1a1a1a" text-anchor="middle" font-weight="bold" font-style="normal">3</text>
<text x="214.5" y="245.2" font-size="7.4" fill="#1a1a1a" text-anchor="middle" font-weight="bold" font-style="normal">4</text>
<text x="251.75" y="245.2" font-size="7.4" fill="#1a1a1a" text-anchor="middle" font-weight="bold" font-style="normal">5</text>
<text x="287.25" y="245.2" font-size="7.4" fill="#1a1a1a" text-anchor="middle" font-weight="bold" font-style="normal">6</text>
<text x="320.25" y="245.2" font-size="7.4" fill="#1a1a1a" text-anchor="middle" font-weight="bold" font-style="normal">7</text>
<text x="350.75" y="245.2" font-size="7.4" fill="#1a1a1a" text-anchor="middle" font-weight="bold" font-style="normal">8</text>
<text x="379" y="245.2" font-size="7.4" fill="#1a1a1a" text-anchor="middle" font-weight="bold" font-style="normal">9</text>
<text x="406.1" y="245.2" font-size="7.4" fill="#1a1a1a" text-anchor="middle" font-weight="bold" font-style="normal">10</text>
<text x="433" y="245.2" font-size="7.4" fill="#1a1a1a" text-anchor="middle" font-weight="bold" font-style="normal">11</text>
<text x="459.8" y="245.2" font-size="7.4" fill="#1a1a1a" text-anchor="middle" font-weight="bold" font-style="normal">12</text>
<text x="484.85" y="245.2" font-size="7.4" fill="#1a1a1a" text-anchor="middle" font-weight="bold" font-style="normal">13</text>
<text x="506.95" y="245.2" font-size="7.4" fill="#1a1a1a" text-anchor="middle" font-weight="bold" font-style="normal">14</text>
<text x="527.75" y="245.2" font-size="7.4" fill="#1a1a1a" text-anchor="middle" font-weight="bold" font-style="normal">15</text>
<text x="547.25" y="245.2" font-size="7.4" fill="#1a1a1a" text-anchor="middle" font-weight="bold" font-style="normal">16</text>
<text x="564.65" y="245.2" font-size="7.4" fill="#1a1a1a" text-anchor="middle" font-weight="bold" font-style="normal">17</text>
<text x="581" y="245.2" font-size="7.4" fill="#1a1a1a" text-anchor="middle" font-weight="bold" font-style="normal">18</text>
<text x="594.85" y="245.2" font-size="7.4" fill="#1a1a1a" text-anchor="middle" font-weight="bold" font-style="normal">19</text>
<text x="606.85" y="245.2" font-size="7.4" fill="#1a1a1a" text-anchor="middle" font-weight="bold" font-style="normal">20</text>
<text x="618.1" y="245.2" font-size="7.4" fill="#1a1a1a" text-anchor="middle" font-weight="bold" font-style="normal">21</text>
<text x="628.05" y="245.2" font-size="7.4" fill="#1a1a1a" text-anchor="middle" font-weight="bold" font-style="normal">22</text>
<text x="53" y="244.6" font-size="8.4" fill="#000" text-anchor="end" font-weight="bold" font-style="normal">Chromosome</text>
<rect x="57.5" y="252.4" width="50" height="11.9" fill="#ffffff"/>
<rect x="107.5" y="252.4" width="48.5" height="11.9" fill="#ffffff"/>
<rect x="156" y="252.4" width="39.5" height="11.9" fill="#ffffff"/>
<rect x="195.5" y="252.4" width="38" height="11.9" fill="#ffffff"/>
<rect x="233.5" y="252.4" width="36.5" height="11.9" fill="#ffffff"/>
<rect x="270" y="252.4" width="34.5" height="11.9" fill="#ffffff"/>
<rect x="304.5" y="252.4" width="31.5" height="11.9" fill="#ffffff"/>
<rect x="336" y="252.4" width="29.5" height="11.9" fill="#ffffff"/>
<rect x="365.5" y="252.4" width="9" height="11.9" fill="#ffffff"/>
<rect x="374.5" y="252.4" width="18" height="11.9" fill="#dde3f3"/>
<rect x="392.5" y="252.4" width="27.2" height="11.9" fill="#ffffff"/>
<rect x="419.7" y="252.4" width="26.6" height="11.9" fill="#ffffff"/>
<rect x="446.3" y="252.4" width="27" height="11.9" fill="#ffffff"/>
<rect x="473.3" y="252.4" width="23.1" height="11.9" fill="#ffffff"/>
<rect x="496.4" y="252.4" width="21.1" height="11.9" fill="#ffffff"/>
<rect x="517.5" y="252.4" width="20.5" height="11.9" fill="#ffffff"/>
<rect x="538" y="252.4" width="7.3" height="11.9" fill="#4a72b0"/>
<rect x="545.3" y="252.4" width="10.8" height="11.9" fill="#bac7e4"/>
<rect x="556.5" y="252.4" width="16.3" height="11.9" fill="#3e66a8"/>
<rect x="572.8" y="252.4" width="3.2" height="11.9" fill="#d8dff0"/>
<rect x="576" y="252.4" width="12.9" height="11.9" fill="#ffffff"/>
<rect x="589.2" y="252.4" width="11.3" height="11.9" fill="#3d65a8"/>
<rect x="600.5" y="252.4" width="12.7" height="11.9" fill="#ffffff"/>
<rect x="613.2" y="252.4" width="9.8" height="11.9" fill="#ffffff"/>
<rect x="623" y="252.4" width="10.1" height="11.9" fill="#4068ab"/>
<line x1="82.58" y1="252.4" x2="82.58" y2="264.3" stroke="#ffffff" stroke-width="0.9" stroke-opacity="0.45"/>
<line x1="82.58" y1="252.4" x2="82.58" y2="264.3" stroke="#c8c8c8" stroke-width="0.7" stroke-dasharray="0.9 1.5"/>
<line x1="126.11" y1="252.4" x2="126.11" y2="264.3" stroke="#ffffff" stroke-width="0.9" stroke-opacity="0.45"/>
<line x1="126.11" y1="252.4" x2="126.11" y2="264.3" stroke="#c8c8c8" stroke-width="0.7" stroke-dasharray="0.9 1.5"/>
<line x1="174.15" y1="252.4" x2="174.15" y2="264.3" stroke="#ffffff" stroke-width="0.9" stroke-opacity="0.45"/>
<line x1="174.15" y1="252.4" x2="174.15" y2="264.3" stroke="#c8c8c8" stroke-width="0.7" stroke-dasharray="0.9 1.5"/>
<line x1="205.52" y1="252.4" x2="205.52" y2="264.3" stroke="#ffffff" stroke-width="0.9" stroke-opacity="0.45"/>
<line x1="205.52" y1="252.4" x2="205.52" y2="264.3" stroke="#c8c8c8" stroke-width="0.7" stroke-dasharray="0.9 1.5"/>
<line x1="243.26" y1="252.4" x2="243.26" y2="264.3" stroke="#ffffff" stroke-width="0.9" stroke-opacity="0.45"/>
<line x1="243.26" y1="252.4" x2="243.26" y2="264.3" stroke="#c8c8c8" stroke-width="0.7" stroke-dasharray="0.9 1.5"/>
<line x1="282.3" y1="252.4" x2="282.3" y2="264.3" stroke="#ffffff" stroke-width="0.9" stroke-opacity="0.45"/>
<line x1="282.3" y1="252.4" x2="282.3" y2="264.3" stroke="#c8c8c8" stroke-width="0.7" stroke-dasharray="0.9 1.5"/>
<line x1="316.36" y1="252.4" x2="316.36" y2="264.3" stroke="#ffffff" stroke-width="0.9" stroke-opacity="0.45"/>
<line x1="316.36" y1="252.4" x2="316.36" y2="264.3" stroke="#c8c8c8" stroke-width="0.7" stroke-dasharray="0.9 1.5"/>
<line x1="345.19" y1="252.4" x2="345.19" y2="264.3" stroke="#ffffff" stroke-width="0.9" stroke-opacity="0.45"/>
<line x1="345.19" y1="252.4" x2="345.19" y2="264.3" stroke="#c8c8c8" stroke-width="0.7" stroke-dasharray="0.9 1.5"/>
<line x1="374.87" y1="252.4" x2="374.87" y2="264.3" stroke="#ffffff" stroke-width="0.9" stroke-opacity="0.45"/>
<line x1="374.87" y1="252.4" x2="374.87" y2="264.3" stroke="#c8c8c8" stroke-width="0.7" stroke-dasharray="0.9 1.5"/>
<line x1="400.57" y1="252.4" x2="400.57" y2="264.3" stroke="#ffffff" stroke-width="0.9" stroke-opacity="0.45"/>
<line x1="400.57" y1="252.4" x2="400.57" y2="264.3" stroke="#c8c8c8" stroke-width="0.7" stroke-dasharray="0.9 1.5"/>
<line x1="430.28" y1="252.4" x2="430.28" y2="264.3" stroke="#ffffff" stroke-width="0.9" stroke-opacity="0.45"/>
<line x1="430.28" y1="252.4" x2="430.28" y2="264.3" stroke="#c8c8c8" stroke-width="0.7" stroke-dasharray="0.9 1.5"/>
<line x1="453.52" y1="252.4" x2="453.52" y2="264.3" stroke="#ffffff" stroke-width="0.9" stroke-opacity="0.45"/>
<line x1="453.52" y1="252.4" x2="453.52" y2="264.3" stroke="#c8c8c8" stroke-width="0.7" stroke-dasharray="0.9 1.5"/>
<line x1="476.89" y1="252.4" x2="476.89" y2="264.3" stroke="#ffffff" stroke-width="0.9" stroke-opacity="0.45"/>
<line x1="476.89" y1="252.4" x2="476.89" y2="264.3" stroke="#c8c8c8" stroke-width="0.7" stroke-dasharray="0.9 1.5"/>
<line x1="499.86" y1="252.4" x2="499.86" y2="264.3" stroke="#ffffff" stroke-width="0.9" stroke-opacity="0.45"/>
<line x1="499.86" y1="252.4" x2="499.86" y2="264.3" stroke="#c8c8c8" stroke-width="0.7" stroke-dasharray="0.9 1.5"/>
<line x1="521.3" y1="252.4" x2="521.3" y2="264.3" stroke="#ffffff" stroke-width="0.9" stroke-opacity="0.45"/>
<line x1="521.3" y1="252.4" x2="521.3" y2="264.3" stroke="#c8c8c8" stroke-width="0.7" stroke-dasharray="0.9 1.5"/>
<line x1="545.49" y1="252.4" x2="545.49" y2="264.3" stroke="#ffffff" stroke-width="0.9" stroke-opacity="0.45"/>
<line x1="545.49" y1="252.4" x2="545.49" y2="264.3" stroke="#c8c8c8" stroke-width="0.7" stroke-dasharray="0.9 1.5"/>
<line x1="561.32" y1="252.4" x2="561.32" y2="264.3" stroke="#ffffff" stroke-width="0.9" stroke-opacity="0.45"/>
<line x1="561.32" y1="252.4" x2="561.32" y2="264.3" stroke="#c8c8c8" stroke-width="0.7" stroke-dasharray="0.9 1.5"/>
<line x1="576.41" y1="252.4" x2="576.41" y2="264.3" stroke="#ffffff" stroke-width="0.9" stroke-opacity="0.45"/>
<line x1="576.41" y1="252.4" x2="576.41" y2="264.3" stroke="#c8c8c8" stroke-width="0.7" stroke-dasharray="0.9 1.5"/>
<line x1="594.26" y1="252.4" x2="594.26" y2="264.3" stroke="#ffffff" stroke-width="0.9" stroke-opacity="0.45"/>
<line x1="594.26" y1="252.4" x2="594.26" y2="264.3" stroke="#c8c8c8" stroke-width="0.7" stroke-dasharray="0.9 1.5"/>
<line x1="606.04" y1="252.4" x2="606.04" y2="264.3" stroke="#ffffff" stroke-width="0.9" stroke-opacity="0.45"/>
<line x1="606.04" y1="252.4" x2="606.04" y2="264.3" stroke="#c8c8c8" stroke-width="0.7" stroke-dasharray="0.9 1.5"/>
<line x1="615.89" y1="252.4" x2="615.89" y2="264.3" stroke="#ffffff" stroke-width="0.9" stroke-opacity="0.45"/>
<line x1="615.89" y1="252.4" x2="615.89" y2="264.3" stroke="#c8c8c8" stroke-width="0.7" stroke-dasharray="0.9 1.5"/>
<line x1="625.89" y1="252.4" x2="625.89" y2="264.3" stroke="#ffffff" stroke-width="0.9" stroke-opacity="0.45"/>
<line x1="625.89" y1="252.4" x2="625.89" y2="264.3" stroke="#c8c8c8" stroke-width="0.7" stroke-dasharray="0.9 1.5"/>
<rect x="57.5" y="264.3" width="50" height="12.1" fill="#f7f8fc"/>
<rect x="107.5" y="264.3" width="48.5" height="12.1" fill="#f7f8fc"/>
<rect x="156" y="264.3" width="39.5" height="12.1" fill="#f7f8fc"/>
<rect x="195.5" y="264.3" width="38" height="12.1" fill="#f7f8fc"/>
<rect x="233.5" y="264.3" width="36.5" height="12.1" fill="#f7f8fc"/>
<rect x="270" y="264.3" width="34.5" height="12.1" fill="#f7f8fc"/>
<rect x="304.5" y="264.3" width="31.5" height="12.1" fill="#f7f8fc"/>
<rect x="336" y="264.3" width="29.5" height="12.1" fill="#f7f8fc"/>
<rect x="365.5" y="264.3" width="27" height="12.1" fill="#f7f8fc"/>
<rect x="392.5" y="264.3" width="27.2" height="12.1" fill="#f7f8fc"/>
<rect x="419.7" y="264.3" width="26.6" height="12.1" fill="#f7f8fc"/>
<rect x="446.3" y="264.3" width="27" height="12.1" fill="#f7f8fc"/>
<rect x="473.3" y="264.3" width="23.1" height="12.1" fill="#f7f8fc"/>
<rect x="496.4" y="264.3" width="21.1" height="12.1" fill="#f7f8fc"/>
<rect x="517.5" y="264.3" width="20.5" height="12.1" fill="#f7f8fc"/>
<rect x="538" y="264.3" width="7.3" height="12.1" fill="#8aa0d0"/>
<rect x="545.3" y="264.3" width="10.8" height="12.1" fill="#f9fafd"/>
<rect x="556.5" y="264.3" width="3.5" height="12.1" fill="#c5d0ea"/>
<rect x="560" y="264.3" width="12.6" height="12.1" fill="#a9b9de"/>
<rect x="572.8" y="264.3" width="16.4" height="12.1" fill="#fbfbfe"/>
<rect x="589.2" y="264.3" width="11.3" height="12.1" fill="#3d65a8"/>
<rect x="600.5" y="264.3" width="12.7" height="12.1" fill="#fdfdfe"/>
<rect x="613.2" y="264.3" width="9.8" height="12.1" fill="#ffffff"/>
<rect x="623" y="264.3" width="2" height="12.1" fill="#3d65a8"/>
<rect x="625" y="264.3" width="7.9" height="12.1" fill="#c5d2ec"/>
<line x1="82.58" y1="264.3" x2="82.58" y2="276.4" stroke="#ffffff" stroke-width="0.9" stroke-opacity="0.45"/>
<line x1="82.58" y1="264.3" x2="82.58" y2="276.4" stroke="#c8c8c8" stroke-width="0.7" stroke-dasharray="0.9 1.5"/>
<line x1="126.11" y1="264.3" x2="126.11" y2="276.4" stroke="#ffffff" stroke-width="0.9" stroke-opacity="0.45"/>
<line x1="126.11" y1="264.3" x2="126.11" y2="276.4" stroke="#c8c8c8" stroke-width="0.7" stroke-dasharray="0.9 1.5"/>
<line x1="174.15" y1="264.3" x2="174.15" y2="276.4" stroke="#ffffff" stroke-width="0.9" stroke-opacity="0.45"/>
<line x1="174.15" y1="264.3" x2="174.15" y2="276.4" stroke="#c8c8c8" stroke-width="0.7" stroke-dasharray="0.9 1.5"/>
<line x1="205.52" y1="264.3" x2="205.52" y2="276.4" stroke="#ffffff" stroke-width="0.9" stroke-opacity="0.45"/>
<line x1="205.52" y1="264.3" x2="205.52" y2="276.4" stroke="#c8c8c8" stroke-width="0.7" stroke-dasharray="0.9 1.5"/>
<line x1="243.26" y1="264.3" x2="243.26" y2="276.4" stroke="#ffffff" stroke-width="0.9" stroke-opacity="0.45"/>
<line x1="243.26" y1="264.3" x2="243.26" y2="276.4" stroke="#c8c8c8" stroke-width="0.7" stroke-dasharray="0.9 1.5"/>
<line x1="282.3" y1="264.3" x2="282.3" y2="276.4" stroke="#ffffff" stroke-width="0.9" stroke-opacity="0.45"/>
<line x1="282.3" y1="264.3" x2="282.3" y2="276.4" stroke="#c8c8c8" stroke-width="0.7" stroke-dasharray="0.9 1.5"/>
<line x1="316.36" y1="264.3" x2="316.36" y2="276.4" stroke="#ffffff" stroke-width="0.9" stroke-opacity="0.45"/>
<line x1="316.36" y1="264.3" x2="316.36" y2="276.4" stroke="#c8c8c8" stroke-width="0.7" stroke-dasharray="0.9 1.5"/>
<line x1="345.19" y1="264.3" x2="345.19" y2="276.4" stroke="#ffffff" stroke-width="0.9" stroke-opacity="0.45"/>
<line x1="345.19" y1="264.3" x2="345.19" y2="276.4" stroke="#c8c8c8" stroke-width="0.7" stroke-dasharray="0.9 1.5"/>
<line x1="374.87" y1="264.3" x2="374.87" y2="276.4" stroke="#ffffff" stroke-width="0.9" stroke-opacity="0.45"/>
<line x1="374.87" y1="264.3" x2="374.87" y2="276.4" stroke="#c8c8c8" stroke-width="0.7" stroke-dasharray="0.9 1.5"/>
<line x1="400.57" y1="264.3" x2="400.57" y2="276.4" stroke="#ffffff" stroke-width="0.9" stroke-opacity="0.45"/>
<line x1="400.57" y1="264.3" x2="400.57" y2="276.4" stroke="#c8c8c8" stroke-width="0.7" stroke-dasharray="0.9 1.5"/>
<line x1="430.28" y1="264.3" x2="430.28" y2="276.4" stroke="#ffffff" stroke-width="0.9" stroke-opacity="0.45"/>
<line x1="430.28" y1="264.3" x2="430.28" y2="276.4" stroke="#c8c8c8" stroke-width="0.7" stroke-dasharray="0.9 1.5"/>
<line x1="453.52" y1="264.3" x2="453.52" y2="276.4" stroke="#ffffff" stroke-width="0.9" stroke-opacity="0.45"/>
<line x1="453.52" y1="264.3" x2="453.52" y2="276.4" stroke="#c8c8c8" stroke-width="0.7" stroke-dasharray="0.9 1.5"/>
<line x1="476.89" y1="264.3" x2="476.89" y2="276.4" stroke="#ffffff" stroke-width="0.9" stroke-opacity="0.45"/>
<line x1="476.89" y1="264.3" x2="476.89" y2="276.4" stroke="#c8c8c8" stroke-width="0.7" stroke-dasharray="0.9 1.5"/>
<line x1="499.86" y1="264.3" x2="499.86" y2="276.4" stroke="#ffffff" stroke-width="0.9" stroke-opacity="0.45"/>
<line x1="499.86" y1="264.3" x2="499.86" y2="276.4" stroke="#c8c8c8" stroke-width="0.7" stroke-dasharray="0.9 1.5"/>
<line x1="521.3" y1="264.3" x2="521.3" y2="276.4" stroke="#ffffff" stroke-width="0.9" stroke-opacity="0.45"/>
<line x1="521.3" y1="264.3" x2="521.3" y2="276.4" stroke="#c8c8c8" stroke-width="0.7" stroke-dasharray="0.9 1.5"/>
<line x1="545.49" y1="264.3" x2="545.49" y2="276.4" stroke="#ffffff" stroke-width="0.9" stroke-opacity="0.45"/>
<line x1="545.49" y1="264.3" x2="545.49" y2="276.4" stroke="#c8c8c8" stroke-width="0.7" stroke-dasharray="0.9 1.5"/>
<line x1="561.32" y1="264.3" x2="561.32" y2="276.4" stroke="#ffffff" stroke-width="0.9" stroke-opacity="0.45"/>
<line x1="561.32" y1="264.3" x2="561.32" y2="276.4" stroke="#c8c8c8" stroke-width="0.7" stroke-dasharray="0.9 1.5"/>
<line x1="576.41" y1="264.3" x2="576.41" y2="276.4" stroke="#ffffff" stroke-width="0.9" stroke-opacity="0.45"/>
<line x1="576.41" y1="264.3" x2="576.41" y2="276.4" stroke="#c8c8c8" stroke-width="0.7" stroke-dasharray="0.9 1.5"/>
<line x1="594.26" y1="264.3" x2="594.26" y2="276.4" stroke="#ffffff" stroke-width="0.9" stroke-opacity="0.45"/>
<line x1="594.26" y1="264.3" x2="594.26" y2="276.4" stroke="#c8c8c8" stroke-width="0.7" stroke-dasharray="0.9 1.5"/>
<line x1="606.04" y1="264.3" x2="606.04" y2="276.4" stroke="#ffffff" stroke-width="0.9" stroke-opacity="0.45"/>
<line x1="606.04" y1="264.3" x2="606.04" y2="276.4" stroke="#c8c8c8" stroke-width="0.7" stroke-dasharray="0.9 1.5"/>
<line x1="615.89" y1="264.3" x2="615.89" y2="276.4" stroke="#ffffff" stroke-width="0.9" stroke-opacity="0.45"/>
<line x1="615.89" y1="264.3" x2="615.89" y2="276.4" stroke="#c8c8c8" stroke-width="0.7" stroke-dasharray="0.9 1.5"/>
<line x1="625.89" y1="264.3" x2="625.89" y2="276.4" stroke="#ffffff" stroke-width="0.9" stroke-opacity="0.45"/>
<line x1="625.89" y1="264.3" x2="625.89" y2="276.4" stroke="#c8c8c8" stroke-width="0.7" stroke-dasharray="0.9 1.5"/>
<line x1="107.5" y1="252.4" x2="107.5" y2="276.4" stroke="#4b4b4b" stroke-width="1"/>
<line x1="156" y1="252.4" x2="156" y2="276.4" stroke="#4b4b4b" stroke-width="1"/>
<line x1="195.5" y1="252.4" x2="195.5" y2="276.4" stroke="#4b4b4b" stroke-width="1"/>
<line x1="233.5" y1="252.4" x2="233.5" y2="276.4" stroke="#4b4b4b" stroke-width="1"/>
<line x1="270" y1="252.4" x2="270" y2="276.4" stroke="#4b4b4b" stroke-width="1"/>
<line x1="304.5" y1="252.4" x2="304.5" y2="276.4" stroke="#4b4b4b" stroke-width="1"/>
<line x1="336" y1="252.4" x2="336" y2="276.4" stroke="#4b4b4b" stroke-width="1"/>
<line x1="365.5" y1="252.4" x2="365.5" y2="276.4" stroke="#4b4b4b" stroke-width="1"/>
<line x1="392.5" y1="252.4" x2="392.5" y2="276.4" stroke="#4b4b4b" stroke-width="1"/>
<line x1="419.7" y1="252.4" x2="419.7" y2="276.4" stroke="#4b4b4b" stroke-width="1"/>
<line x1="446.3" y1="252.4" x2="446.3" y2="276.4" stroke="#4b4b4b" stroke-width="1"/>
<line x1="473.3" y1="252.4" x2="473.3" y2="276.4" stroke="#4b4b4b" stroke-width="1"/>
<line x1="496.4" y1="252.4" x2="496.4" y2="276.4" stroke="#4b4b4b" stroke-width="1"/>
<line x1="517.5" y1="252.4" x2="517.5" y2="276.4" stroke="#4b4b4b" stroke-width="1"/>
<line x1="538" y1="252.4" x2="538" y2="276.4" stroke="#4b4b4b" stroke-width="1"/>
<line x1="556.5" y1="252.4" x2="556.5" y2="276.4" stroke="#4b4b4b" stroke-width="1"/>
<line x1="572.8" y1="252.4" x2="572.8" y2="276.4" stroke="#4b4b4b" stroke-width="1"/>
<line x1="589.2" y1="252.4" x2="589.2" y2="276.4" stroke="#4b4b4b" stroke-width="1"/>
<line x1="600.5" y1="252.4" x2="600.5" y2="276.4" stroke="#4b4b4b" stroke-width="1"/>
<line x1="613.2" y1="252.4" x2="613.2" y2="276.4" stroke="#4b4b4b" stroke-width="1"/>
<line x1="623" y1="252.4" x2="623" y2="276.4" stroke="#4b4b4b" stroke-width="1"/>
<line x1="57.5" y1="264.3" x2="633.1" y2="264.3" stroke="#141414" stroke-width="1.3"/>
<rect x="57.5" y="252.4" width="575.6" height="24" fill="none" stroke="#141414" stroke-width="1.3" rx="0.6"/>
<line x1="54.2" y1="258.3" x2="57.5" y2="258.3" stroke="#333" stroke-width="1"/>
<text x="51" y="261.4" font-size="8.6" fill="#262626" text-anchor="end" font-weight="normal" font-style="normal">CPC</text>
<line x1="54.2" y1="270.4" x2="57.5" y2="270.4" stroke="#333" stroke-width="1"/>
<text x="51" y="273.5" font-size="8.6" fill="#262626" text-anchor="end" font-weight="normal" font-style="normal">CPP</text>
<rect x="57.5" y="281.1" width="50" height="97.5" fill="#ebebeb"/>
<rect x="156" y="281.1" width="39.5" height="97.5" fill="#ebebeb"/>
<rect x="233.5" y="281.1" width="36.5" height="97.5" fill="#ebebeb"/>
<rect x="304.5" y="281.1" width="31.5" height="97.5" fill="#ebebeb"/>
<rect x="365.5" y="281.1" width="27" height="97.5" fill="#ebebeb"/>
<rect x="419.7" y="281.1" width="26.6" height="97.5" fill="#ebebeb"/>
<rect x="473.3" y="281.1" width="23.1" height="97.5" fill="#ebebeb"/>
<rect x="517.5" y="281.1" width="20.5" height="97.5" fill="#ebebeb"/>
<rect x="556.5" y="281.1" width="16.3" height="97.5" fill="#ebebeb"/>
<rect x="589.2" y="281.1" width="11.3" height="97.5" fill="#ebebeb"/>
<rect x="613.2" y="281.1" width="9.8" height="97.5" fill="#ebebeb"/>
<line x1="82.58" y1="281.1" x2="82.58" y2="378.6" stroke="#c4c4c4" stroke-width="0.7" stroke-dasharray="0.9 1.5"/>
<line x1="126.11" y1="281.1" x2="126.11" y2="378.6" stroke="#d4d4d4" stroke-width="0.7" stroke-dasharray="0.9 1.5"/>
<line x1="174.15" y1="281.1" x2="174.15" y2="378.6" stroke="#c4c4c4" stroke-width="0.7" stroke-dasharray="0.9 1.5"/>
<line x1="205.52" y1="281.1" x2="205.52" y2="378.6" stroke="#d4d4d4" stroke-width="0.7" stroke-dasharray="0.9 1.5"/>
<line x1="243.26" y1="281.1" x2="243.26" y2="378.6" stroke="#c4c4c4" stroke-width="0.7" stroke-dasharray="0.9 1.5"/>
<line x1="282.3" y1="281.1" x2="282.3" y2="378.6" stroke="#d4d4d4" stroke-width="0.7" stroke-dasharray="0.9 1.5"/>
<line x1="316.36" y1="281.1" x2="316.36" y2="378.6" stroke="#c4c4c4" stroke-width="0.7" stroke-dasharray="0.9 1.5"/>
<line x1="345.19" y1="281.1" x2="345.19" y2="378.6" stroke="#d4d4d4" stroke-width="0.7" stroke-dasharray="0.9 1.5"/>
<line x1="374.87" y1="281.1" x2="374.87" y2="378.6" stroke="#c4c4c4" stroke-width="0.7" stroke-dasharray="0.9 1.5"/>
<line x1="400.57" y1="281.1" x2="400.57" y2="378.6" stroke="#d4d4d4" stroke-width="0.7" stroke-dasharray="0.9 1.5"/>
<line x1="430.28" y1="281.1" x2="430.28" y2="378.6" stroke="#c4c4c4" stroke-width="0.7" stroke-dasharray="0.9 1.5"/>
<line x1="453.52" y1="281.1" x2="453.52" y2="378.6" stroke="#d4d4d4" stroke-width="0.7" stroke-dasharray="0.9 1.5"/>
<line x1="476.89" y1="281.1" x2="476.89" y2="378.6" stroke="#c4c4c4" stroke-width="0.7" stroke-dasharray="0.9 1.5"/>
<line x1="499.86" y1="281.1" x2="499.86" y2="378.6" stroke="#d4d4d4" stroke-width="0.7" stroke-dasharray="0.9 1.5"/>
<line x1="521.3" y1="281.1" x2="521.3" y2="378.6" stroke="#c4c4c4" stroke-width="0.7" stroke-dasharray="0.9 1.5"/>
<line x1="545.49" y1="281.1" x2="545.49" y2="378.6" stroke="#d4d4d4" stroke-width="0.7" stroke-dasharray="0.9 1.5"/>
<line x1="561.32" y1="281.1" x2="561.32" y2="378.6" stroke="#c4c4c4" stroke-width="0.7" stroke-dasharray="0.9 1.5"/>
<line x1="576.41" y1="281.1" x2="576.41" y2="378.6" stroke="#d4d4d4" stroke-width="0.7" stroke-dasharray="0.9 1.5"/>
<line x1="594.26" y1="281.1" x2="594.26" y2="378.6" stroke="#c4c4c4" stroke-width="0.7" stroke-dasharray="0.9 1.5"/>
<line x1="606.04" y1="281.1" x2="606.04" y2="378.6" stroke="#d4d4d4" stroke-width="0.7" stroke-dasharray="0.9 1.5"/>
<line x1="615.89" y1="281.1" x2="615.89" y2="378.6" stroke="#c4c4c4" stroke-width="0.7" stroke-dasharray="0.9 1.5"/>
<line x1="625.89" y1="281.1" x2="625.89" y2="378.6" stroke="#d4d4d4" stroke-width="0.7" stroke-dasharray="0.9 1.5"/>
<line x1="61.3" y1="281.6" x2="61.3" y2="289.6" stroke="#4f7fc4" stroke-width="1"/>
<line x1="66.6" y1="281.6" x2="66.6" y2="289.6" stroke="#4f7fc4" stroke-width="1"/>
<line x1="68.7" y1="281.6" x2="68.7" y2="289.6" stroke="#4f7fc4" stroke-width="1"/>
<line x1="74.4" y1="281.6" x2="74.4" y2="289.6" stroke="#4f7fc4" stroke-width="1"/>
<line x1="85" y1="281.6" x2="85" y2="289.6" stroke="#4f7fc4" stroke-width="1"/>
<line x1="87.1" y1="281.6" x2="87.1" y2="289.6" stroke="#4f7fc4" stroke-width="1"/>
<line x1="90.5" y1="281.6" x2="90.5" y2="298.7" stroke="#4f7fc4" stroke-width="1" stroke-opacity="0.4"/>
<line x1="101" y1="281.6" x2="101" y2="289.6" stroke="#4f7fc4" stroke-width="1" stroke-opacity="0.7"/>
<line x1="111" y1="281.6" x2="111" y2="289.6" stroke="#4f7fc4" stroke-width="1"/>
<line x1="112.5" y1="281.6" x2="112.5" y2="298.7" stroke="#4f7fc4" stroke-width="1" stroke-opacity="0.6"/>
<line x1="118.4" y1="281.6" x2="118.4" y2="307.6" stroke="#4f7fc4" stroke-width="1" stroke-opacity="0.7"/>
<line x1="123.7" y1="281.6" x2="123.7" y2="289.6" stroke="#4f7fc4" stroke-width="1"/>
<line x1="133.6" y1="281.6" x2="133.6" y2="307.6" stroke="#4f7fc4" stroke-width="1" stroke-opacity="0.3"/>
<line x1="139.5" y1="281.6" x2="139.5" y2="289.6" stroke="#4f7fc4" stroke-width="1" stroke-opacity="0.6"/>
<line x1="140.6" y1="281.6" x2="140.6" y2="289.6" stroke="#4f7fc4" stroke-width="1" stroke-opacity="0.6"/>
<line x1="146.3" y1="281.6" x2="146.3" y2="326" stroke="#4f7fc4" stroke-width="1" stroke-opacity="0.8"/>
<line x1="149.4" y1="281.6" x2="149.4" y2="289.6" stroke="#4f7fc4" stroke-width="1"/>
<line x1="152.2" y1="281.6" x2="152.2" y2="289.6" stroke="#4f7fc4" stroke-width="1"/>
<line x1="156.3" y1="281.6" x2="156.3" y2="317" stroke="#4f7fc4" stroke-width="1" stroke-opacity="0.4"/>
<line x1="160.6" y1="281.6" x2="160.6" y2="325.5" stroke="#4f7fc4" stroke-width="1" stroke-opacity="0.4"/>
<line x1="158.8" y1="281.6" x2="158.8" y2="338" stroke="#4f7fc4" stroke-width="1" stroke-opacity="0.2"/>
<line x1="161.8" y1="281.6" x2="161.8" y2="338" stroke="#4f7fc4" stroke-width="1" stroke-opacity="0.25"/>
<line x1="163.2" y1="281.6" x2="163.2" y2="338" stroke="#4f7fc4" stroke-width="1" stroke-opacity="0.3"/>
<line x1="166.5" y1="281.6" x2="166.5" y2="336" stroke="#4f7fc4" stroke-width="1" stroke-opacity="0.25"/>
<line x1="164.4" y1="281.6" x2="164.4" y2="290.7" stroke="#4f7fc4" stroke-width="1"/>
<line x1="164.4" y1="281.6" x2="164.4" y2="339.3" stroke="#4f7fc4" stroke-width="1" stroke-opacity="0.5"/>
<line x1="165.3" y1="281.6" x2="165.3" y2="339.3" stroke="#4f7fc4" stroke-width="1" stroke-opacity="0.5"/>
<line x1="177.5" y1="281.6" x2="177.5" y2="299" stroke="#4f7fc4" stroke-width="1" stroke-opacity="0.4"/>
<line x1="182" y1="281.6" x2="182" y2="307.6" stroke="#4f7fc4" stroke-width="1" stroke-opacity="0.6"/>
<line x1="191.8" y1="281.6" x2="191.8" y2="307.6" stroke="#4f7fc4" stroke-width="1" stroke-opacity="0.5"/>
<line x1="193.3" y1="281.6" x2="193.3" y2="289.6" stroke="#4f7fc4" stroke-width="1"/>
<line x1="194.4" y1="281.6" x2="194.4" y2="335" stroke="#4f7fc4" stroke-width="1" stroke-opacity="0.6"/>
<line x1="200.3" y1="281.6" x2="200.3" y2="289.6" stroke="#4f7fc4" stroke-width="1"/>
<line x1="202.4" y1="281.6" x2="202.4" y2="325.5" stroke="#4f7fc4" stroke-width="1" stroke-opacity="0.5"/>
<line x1="205.4" y1="281.6" x2="205.4" y2="317" stroke="#4f7fc4" stroke-width="1" stroke-opacity="0.4"/>
<line x1="209.2" y1="281.6" x2="209.2" y2="307.6" stroke="#4f7fc4" stroke-width="1" stroke-opacity="0.5"/>
<line x1="210.2" y1="281.6" x2="210.2" y2="307.6" stroke="#4f7fc4" stroke-width="1" stroke-opacity="0.5"/>
<line x1="224.4" y1="281.6" x2="224.4" y2="289.6" stroke="#4f7fc4" stroke-width="1" stroke-opacity="0.6"/>
<line x1="235.3" y1="281.6" x2="235.3" y2="289.6" stroke="#4f7fc4" stroke-width="1" stroke-opacity="0.7"/>
<line x1="238.9" y1="281.6" x2="238.9" y2="289.6" stroke="#4f7fc4" stroke-width="1" stroke-opacity="0.7"/>
<line x1="245.8" y1="281.6" x2="245.8" y2="289.6" stroke="#4f7fc4" stroke-width="1"/>
<line x1="245.8" y1="281.6" x2="245.8" y2="307.6" stroke="#4f7fc4" stroke-width="1" stroke-opacity="0.4"/>
<line x1="259.6" y1="281.6" x2="259.6" y2="289.6" stroke="#4f7fc4" stroke-width="1" stroke-opacity="0.6"/>
<line x1="267.6" y1="281.6" x2="267.6" y2="289.6" stroke="#4f7fc4" stroke-width="1"/>
<line x1="275.4" y1="281.6" x2="275.4" y2="289.6" stroke="#4f7fc4" stroke-width="1"/>
<line x1="276.9" y1="281.6" x2="276.9" y2="325.5" stroke="#4f7fc4" stroke-width="1" stroke-opacity="0.6"/>
<line x1="282.8" y1="281.6" x2="282.8" y2="317" stroke="#4f7fc4" stroke-width="1" stroke-opacity="0.5"/>
<line x1="300.8" y1="281.6" x2="300.8" y2="307.6" stroke="#4f7fc4" stroke-width="1" stroke-opacity="0.5"/>
<line x1="303.5" y1="281.6" x2="303.5" y2="317" stroke="#4f7fc4" stroke-width="1" stroke-opacity="0.8"/>
<line x1="307.1" y1="281.6" x2="307.1" y2="298.7" stroke="#4f7fc4" stroke-width="1" stroke-opacity="0.6"/>
<line x1="310.3" y1="281.6" x2="310.3" y2="298.7" stroke="#4f7fc4" stroke-width="1" stroke-opacity="0.6"/>
<line x1="313.5" y1="281.6" x2="313.5" y2="307.6" stroke="#4f7fc4" stroke-width="1" stroke-opacity="0.5"/>
<line x1="315.6" y1="281.6" x2="315.6" y2="307.6" stroke="#4f7fc4" stroke-width="1"/>
<line x1="316.6" y1="281.6" x2="316.6" y2="317" stroke="#4f7fc4" stroke-width="1"/>
<line x1="322.5" y1="281.6" x2="322.5" y2="307.6" stroke="#4f7fc4" stroke-width="1"/>
<line x1="328.2" y1="281.6" x2="328.2" y2="298.7" stroke="#4f7fc4" stroke-width="1" stroke-opacity="0.7"/>
<line x1="330.4" y1="281.6" x2="330.4" y2="307.6" stroke="#4f7fc4" stroke-width="1" stroke-opacity="0.5"/>
<line x1="333.5" y1="281.6" x2="333.5" y2="298.7" stroke="#4f7fc4" stroke-width="1" stroke-opacity="0.7"/>
<line x1="340.6" y1="281.6" x2="340.6" y2="289.6" stroke="#4f7fc4" stroke-width="1" stroke-opacity="0.4"/>
<line x1="342.7" y1="281.6" x2="342.7" y2="298.7" stroke="#4f7fc4" stroke-width="1" stroke-opacity="0.4"/>
<line x1="343.7" y1="281.6" x2="343.7" y2="298.7" stroke="#4f7fc4" stroke-width="1" stroke-opacity="0.4"/>
<line x1="348" y1="281.6" x2="348" y2="289.6" stroke="#4f7fc4" stroke-width="1" stroke-opacity="0.4"/>
<line x1="362.7" y1="281.6" x2="362.7" y2="289.6" stroke="#4f7fc4" stroke-width="1" stroke-opacity="0.6"/>
<line x1="363.8" y1="281.6" x2="363.8" y2="289.6" stroke="#4f7fc4" stroke-width="1" stroke-opacity="0.6"/>
<line x1="370.4" y1="281.6" x2="370.4" y2="307.6" stroke="#4f7fc4" stroke-width="1" stroke-opacity="0.4"/>
<line x1="371.5" y1="281.6" x2="371.5" y2="298.6" stroke="#4f7fc4" stroke-width="1" stroke-opacity="0.5"/>
<line x1="376.3" y1="281.6" x2="376.3" y2="307.6" stroke="#4f7fc4" stroke-width="1"/>
<line x1="385.9" y1="281.6" x2="385.9" y2="290.2" stroke="#4f7fc4" stroke-width="1" stroke-opacity="0.5"/>
<line x1="389.5" y1="281.6" x2="389.5" y2="307.6" stroke="#4f7fc4" stroke-width="1"/>
<line x1="393.2" y1="281.6" x2="393.2" y2="325.6" stroke="#4f7fc4" stroke-width="1"/>
<line x1="408.6" y1="281.6" x2="408.6" y2="307.6" stroke="#4f7fc4" stroke-width="1" stroke-opacity="0.4"/>
<line x1="411.4" y1="281.6" x2="411.4" y2="307.6" stroke="#4f7fc4" stroke-width="1" stroke-opacity="0.7"/>
<line x1="414.7" y1="281.6" x2="414.7" y2="290" stroke="#4f7fc4" stroke-width="1" stroke-opacity="0.4"/>
<line x1="418.6" y1="281.6" x2="418.6" y2="290" stroke="#4f7fc4" stroke-width="1"/>
<line x1="424.5" y1="281.6" x2="424.5" y2="325.5" stroke="#4f7fc4" stroke-width="1" stroke-opacity="0.4"/>
<line x1="427.4" y1="281.6" x2="427.4" y2="334.5" stroke="#4f7fc4" stroke-width="1" stroke-opacity="0.8"/>
<line x1="431.4" y1="281.6" x2="431.4" y2="316.5" stroke="#4f7fc4" stroke-width="1"/>
<line x1="439.5" y1="281.6" x2="439.5" y2="325.5" stroke="#4f7fc4" stroke-width="1" stroke-opacity="0.4"/>
<line x1="441.8" y1="281.6" x2="441.8" y2="290.2" stroke="#4f7fc4" stroke-width="1" stroke-opacity="0.8"/>
<line x1="441.8" y1="281.6" x2="441.8" y2="307.5" stroke="#4f7fc4" stroke-width="1" stroke-opacity="0.3"/>
<line x1="451.5" y1="281.6" x2="451.5" y2="290.2" stroke="#4f7fc4" stroke-width="1" stroke-opacity="0.5"/>
<line x1="455" y1="281.6" x2="455" y2="290.2" stroke="#4f7fc4" stroke-width="1" stroke-opacity="0.8"/>
<line x1="456.3" y1="281.6" x2="456.3" y2="290.2" stroke="#4f7fc4" stroke-width="1" stroke-opacity="0.8"/>
<line x1="458.5" y1="281.6" x2="458.5" y2="290.2" stroke="#4f7fc4" stroke-width="1" stroke-opacity="0.5"/>
<line x1="464.3" y1="281.6" x2="464.3" y2="290.2" stroke="#4f7fc4" stroke-width="1" stroke-opacity="0.6"/>
<line x1="467.5" y1="281.6" x2="467.5" y2="290.2" stroke="#4f7fc4" stroke-width="1" stroke-opacity="0.6"/>
<line x1="469.4" y1="281.6" x2="469.4" y2="290.2" stroke="#4f7fc4" stroke-width="1" stroke-opacity="0.6"/>
<line x1="482.9" y1="281.6" x2="482.9" y2="307.5" stroke="#4f7fc4" stroke-width="1" stroke-opacity="0.8"/>
<line x1="480.3" y1="281.6" x2="480.3" y2="298.5" stroke="#4f7fc4" stroke-width="1" stroke-opacity="0.4"/>
<line x1="501.2" y1="281.6" x2="501.2" y2="316.5" stroke="#4f7fc4" stroke-width="1" stroke-opacity="0.5"/>
<line x1="501.2" y1="281.6" x2="501.2" y2="290" stroke="#4f7fc4" stroke-width="1"/>
<line x1="504.6" y1="281.6" x2="504.6" y2="290" stroke="#4f7fc4" stroke-width="1" stroke-opacity="0.5"/>
<line x1="507.5" y1="281.6" x2="507.5" y2="307.5" stroke="#4f7fc4" stroke-width="1" stroke-opacity="0.6"/>
<line x1="509.5" y1="281.6" x2="509.5" y2="307.5" stroke="#4f7fc4" stroke-width="1" stroke-opacity="0.6"/>
<line x1="515.3" y1="281.6" x2="515.3" y2="307.5" stroke="#4f7fc4" stroke-width="1" stroke-opacity="0.6"/>
<line x1="520.7" y1="281.6" x2="520.7" y2="290" stroke="#4f7fc4" stroke-width="1" stroke-opacity="0.5"/>
<line x1="524.5" y1="281.6" x2="524.5" y2="325.5" stroke="#4f7fc4" stroke-width="1" stroke-opacity="0.8"/>
<line x1="526.5" y1="281.6" x2="526.5" y2="316.5" stroke="#4f7fc4" stroke-width="1" stroke-opacity="0.4"/>
<line x1="529.4" y1="281.6" x2="529.4" y2="316.5" stroke="#4f7fc4" stroke-width="1" stroke-opacity="0.4"/>
<line x1="534.2" y1="281.6" x2="534.2" y2="298.5" stroke="#4f7fc4" stroke-width="1"/>
<line x1="542.5" y1="281.6" x2="542.5" y2="325.5" stroke="#4f7fc4" stroke-width="1"/>
<line x1="548.7" y1="281.6" x2="548.7" y2="290" stroke="#4f7fc4" stroke-width="1" stroke-opacity="0.5"/>
<line x1="550.9" y1="281.6" x2="550.9" y2="334.5" stroke="#4f7fc4" stroke-width="1" stroke-opacity="0.9"/>
<line x1="555.4" y1="281.6" x2="555.4" y2="325.5" stroke="#4f7fc4" stroke-width="1"/>
<line x1="561.9" y1="281.6" x2="561.9" y2="316.5" stroke="#4f7fc4" stroke-width="1" stroke-opacity="0.7"/>
<line x1="566" y1="281.6" x2="566" y2="298.5" stroke="#4f7fc4" stroke-width="1"/>
<line x1="566.5" y1="281.6" x2="566.5" y2="325.4" stroke="#4f7fc4" stroke-width="1" stroke-opacity="0.4"/>
<line x1="568.5" y1="281.6" x2="568.5" y2="316.5" stroke="#4f7fc4" stroke-width="1" stroke-opacity="0.4"/>
<line x1="570" y1="281.6" x2="570" y2="316.5" stroke="#4f7fc4" stroke-width="1" stroke-opacity="0.4"/>
<line x1="575.8" y1="281.6" x2="575.8" y2="307.5" stroke="#4f7fc4" stroke-width="1" stroke-opacity="0.4"/>
<line x1="578.3" y1="281.6" x2="578.3" y2="289.5" stroke="#4f7fc4" stroke-width="1" stroke-opacity="0.4"/>
<line x1="596.9" y1="281.6" x2="596.9" y2="334.7" stroke="#4f7fc4" stroke-width="1"/>
<line x1="598.5" y1="281.6" x2="598.5" y2="325.8" stroke="#4f7fc4" stroke-width="1" stroke-opacity="0.5"/>
<line x1="605" y1="281.6" x2="605" y2="289.6" stroke="#4f7fc4" stroke-width="1"/>
<line x1="606.2" y1="281.6" x2="606.2" y2="289.6" stroke="#4f7fc4" stroke-width="1"/>
<line x1="614.5" y1="281.6" x2="614.5" y2="289.6" stroke="#4f7fc4" stroke-width="1" stroke-opacity="0.4"/>
<line x1="616" y1="281.6" x2="616" y2="289.6" stroke="#4f7fc4" stroke-width="1" stroke-opacity="0.4"/>
<line x1="617.5" y1="281.6" x2="617.5" y2="289.6" stroke="#4f7fc4" stroke-width="1" stroke-opacity="0.4"/>
<line x1="624.3" y1="281.6" x2="624.3" y2="316.8" stroke="#4f7fc4" stroke-width="1"/>
<line x1="629.2" y1="281.6" x2="629.2" y2="307.9" stroke="#4f7fc4" stroke-width="1"/>
<line x1="629.2" y1="281.6" x2="629.2" y2="325.8" stroke="#4f7fc4" stroke-width="1" stroke-opacity="0.4"/>
<rect x="280.9" y="281.6" width="22" height="17.1" fill="#4f7fc4"/>
<rect x="314.8" y="281.6" width="2.7" height="26" fill="#4f7fc4" fill-opacity="0.85"/>
<rect x="370" y="281.6" width="2.3" height="8.6" fill="#4f7fc4" fill-opacity="0.7"/>
<rect x="389" y="281.6" width="3.3" height="8.6" fill="#4f7fc4"/>
<rect x="392.6" y="281.6" width="5.4" height="8" fill="#4f7fc4"/>
<rect x="404.4" y="281.6" width="2.6" height="26" fill="#4f7fc4" fill-opacity="0.6"/>
<rect x="430.3" y="281.6" width="2.5" height="8.6" fill="#4f7fc4"/>
<rect x="475.8" y="281.6" width="19.3" height="8" fill="#4f7fc4"/>
<rect x="486.8" y="281.6" width="8.3" height="16.9" fill="#4f7fc4"/>
<rect x="538.4" y="281.6" width="5.2" height="16.9" fill="#4f7fc4"/>
<rect x="538.4" y="281.6" width="3.5" height="25.9" fill="#4f7fc4"/>
<rect x="553.4" y="281.6" width="2.6" height="8.4" fill="#4f7fc4"/>
<rect x="560" y="281.6" width="5.2" height="25.9" fill="#4f7fc4"/>
<rect x="560" y="281.6" width="1.3" height="43.8" fill="#4f7fc4"/>
<rect x="588.9" y="281.6" width="1.6" height="53.1" fill="#4f7fc4"/>
<rect x="590.5" y="281.6" width="1.5" height="44.2" fill="#4f7fc4"/>
<rect x="593.3" y="281.6" width="3.7" height="35.2" fill="#4f7fc4"/>
<rect x="597" y="281.6" width="2.5" height="26" fill="#4f7fc4"/>
<rect x="624.8" y="281.6" width="6.7" height="8.4" fill="#4f7fc4"/>
<line x1="107.5" y1="281.1" x2="107.5" y2="378.6" stroke="#4b4b4b" stroke-width="1"/>
<line x1="156" y1="281.1" x2="156" y2="378.6" stroke="#4b4b4b" stroke-width="1"/>
<line x1="195.5" y1="281.1" x2="195.5" y2="378.6" stroke="#4b4b4b" stroke-width="1"/>
<line x1="233.5" y1="281.1" x2="233.5" y2="378.6" stroke="#4b4b4b" stroke-width="1"/>
<line x1="270" y1="281.1" x2="270" y2="378.6" stroke="#4b4b4b" stroke-width="1"/>
<line x1="304.5" y1="281.1" x2="304.5" y2="378.6" stroke="#4b4b4b" stroke-width="1"/>
<line x1="336" y1="281.1" x2="336" y2="378.6" stroke="#4b4b4b" stroke-width="1"/>
<line x1="365.5" y1="281.1" x2="365.5" y2="378.6" stroke="#4b4b4b" stroke-width="1"/>
<line x1="392.5" y1="281.1" x2="392.5" y2="378.6" stroke="#4b4b4b" stroke-width="1"/>
<line x1="419.7" y1="281.1" x2="419.7" y2="378.6" stroke="#4b4b4b" stroke-width="1"/>
<line x1="446.3" y1="281.1" x2="446.3" y2="378.6" stroke="#4b4b4b" stroke-width="1"/>
<line x1="473.3" y1="281.1" x2="473.3" y2="378.6" stroke="#4b4b4b" stroke-width="1"/>
<line x1="496.4" y1="281.1" x2="496.4" y2="378.6" stroke="#4b4b4b" stroke-width="1"/>
<line x1="517.5" y1="281.1" x2="517.5" y2="378.6" stroke="#4b4b4b" stroke-width="1"/>
<line x1="538" y1="281.1" x2="538" y2="378.6" stroke="#4b4b4b" stroke-width="1"/>
<line x1="556.5" y1="281.1" x2="556.5" y2="378.6" stroke="#4b4b4b" stroke-width="1"/>
<line x1="572.8" y1="281.1" x2="572.8" y2="378.6" stroke="#4b4b4b" stroke-width="1"/>
<line x1="589.2" y1="281.1" x2="589.2" y2="378.6" stroke="#4b4b4b" stroke-width="1"/>
<line x1="600.5" y1="281.1" x2="600.5" y2="378.6" stroke="#4b4b4b" stroke-width="1"/>
<line x1="613.2" y1="281.1" x2="613.2" y2="378.6" stroke="#4b4b4b" stroke-width="1"/>
<line x1="623" y1="281.1" x2="623" y2="378.6" stroke="#4b4b4b" stroke-width="1"/>
<rect x="57.5" y="281.1" width="575.6" height="97.5" fill="none" stroke="#141414" stroke-width="1.3" rx="0.6"/>
<line x1="54.2" y1="281.1" x2="57.5" y2="281.1" stroke="#333" stroke-width="1"/>
<text transform="translate(52.2,284.48) scale(0.88,1)" font-size="9.8" fill="#2b2b2b" text-anchor="end" font-weight="normal" font-style="normal">0.0</text>
<line x1="54.2" y1="327" x2="57.5" y2="327" stroke="#333" stroke-width="1"/>
<text transform="translate(52.2,330.38) scale(0.88,1)" font-size="9.8" fill="#2b2b2b" text-anchor="end" font-weight="normal" font-style="normal">0.5</text>
<line x1="54.2" y1="372.8" x2="57.5" y2="372.8" stroke="#333" stroke-width="1"/>
<text transform="translate(52.2,376.18) scale(0.88,1)" font-size="9.8" fill="#2b2b2b" text-anchor="end" font-weight="normal" font-style="normal">1.0</text>
<text transform="translate(160.7,346.9) rotate(-90)" font-size="6.6" fill="#4a78bb" text-anchor="end" font-weight="normal" font-style="italic" stroke="#4a78bb" stroke-width="0.22">RHOA</text>
<text transform="translate(174.5,345.8) rotate(-90)" font-size="6.6" fill="#4a78bb" text-anchor="end" font-weight="normal" font-style="italic" stroke="#4a78bb" stroke-width="0.22">SETD2</text>
<path d="M158.2 345.3 L163.8 341.4" fill="none" stroke="#4a78bb" stroke-width="0.6"/>
<path d="M165.3 341.4 L169.9 344.3" fill="none" stroke="#4a78bb" stroke-width="0.6"/>
<text transform="translate(199,345.8) rotate(-90)" font-size="6.6" fill="#4a78bb" text-anchor="end" font-weight="normal" font-style="italic" stroke="#4a78bb" stroke-width="0.22">N4BP2</text>
<text transform="translate(211.8,346.4) rotate(-90)" font-size="6.6" fill="#4a78bb" text-anchor="end" font-weight="normal" font-style="italic" stroke="#4a78bb" stroke-width="0.22">RHOH</text>
<path d="M196.6 345 L202.5 341" fill="none" stroke="#4a78bb" stroke-width="0.6"/>
<path d="M204 341 L208.5 345.5" fill="none" stroke="#4a78bb" stroke-width="0.6"/>
<text transform="translate(430,341.4) rotate(-90)" font-size="6.6" fill="#4a78bb" text-anchor="end" font-weight="normal" font-style="italic" stroke="#4a78bb" stroke-width="0.22">WT1</text>
<path d="M427.5 341 L430.5 341" fill="none" stroke="#4a78bb" stroke-width="0.6"/>
<text transform="translate(444.6,341.4) rotate(-90)" font-size="6.6" fill="#4a78bb" text-anchor="end" font-weight="normal" font-style="italic" stroke="#4a78bb" stroke-width="0.22">ATM</text>
<path d="M442 341 L445 341" fill="none" stroke="#4a78bb" stroke-width="0.6"/>
<text transform="translate(487.1,345.6) rotate(-90)" font-size="6.6" fill="#4a78bb" text-anchor="end" font-weight="normal" font-style="italic" stroke="#4a78bb" stroke-width="0.22">BAZ1A</text>
<path d="M484.5 343.6 L501.5 340.4" fill="none" stroke="#4a78bb" stroke-width="0.6"/>
<text transform="translate(501.5,347) rotate(-90)" font-size="6.6" fill="#4a78bb" text-anchor="end" font-weight="normal" font-style="italic" stroke="#4a78bb" stroke-width="0.22">B2M</text>
<path d="M497.6 346.9 L524.5 341" fill="none" stroke="#4a78bb" stroke-width="0.6"/>
<text transform="translate(515.3,346.3) rotate(-90)" font-size="6.6" fill="#4a78bb" text-anchor="end" font-weight="normal" font-style="italic" stroke="#4a78bb" stroke-width="0.22">KNL1</text>
<text transform="translate(530.4,345.6) rotate(-90)" font-size="6.6" fill="#4a78bb" text-anchor="end" font-weight="normal" font-style="italic" stroke="#4a78bb" stroke-width="0.22">CBFB</text>
<path d="M527.2 345 L550.3 340.8" fill="none" stroke="#4a78bb" stroke-width="0.6"/>
<text transform="translate(544,346) rotate(-90)" font-size="6.6" fill="#4a78bb" text-anchor="end" font-weight="normal" font-style="italic" stroke="#4a78bb" stroke-width="0.22">CTCF</text>
<path d="M541.1 345.5 L550.6 341" fill="none" stroke="#4a78bb" stroke-width="0.6"/>
<text transform="translate(558.7,346.8) rotate(-90)" font-size="6.6" fill="#4a78bb" text-anchor="end" font-weight="normal" font-style="italic" stroke="#4a78bb" stroke-width="0.22">CDH1</text>
<path d="M551.7 340.9 L555.6 346.3" fill="none" stroke="#4a78bb" stroke-width="0.6"/>
<text transform="translate(574.3,345.6) rotate(-90)" font-size="6.6" fill="#1a1a1a" text-anchor="end" font-weight="normal" font-style="italic" stroke="#1a1a1a" stroke-width="0.22">RFWD3</text>
<path d="M555.3 341 L569 343.5" fill="none" stroke="#1a1a1a" stroke-width="0.6"/>
<text transform="translate(588,346.6) rotate(-90)" font-size="6.6" fill="#4a78bb" text-anchor="end" font-weight="normal" font-style="italic" stroke="#4a78bb" stroke-width="0.22">CLTC</text>
<path d="M569 341 L582.8 345.6" fill="none" stroke="#4a78bb" stroke-width="0.6"/>
<text transform="translate(600.7,345.6) rotate(-90)" font-size="6.6" fill="#1a1a1a" text-anchor="end" font-weight="normal" font-style="italic" stroke="#1a1a1a" stroke-width="0.22">PRKAR1A</text>
<path d="M570 341.3 L592.3 347.3" fill="none" stroke="#1a1a1a" stroke-width="0.6"/>
<text transform="translate(630.4,345.9) rotate(-90)" font-size="6.6" fill="#1a1a1a" text-anchor="end" font-weight="normal" font-style="italic" stroke="#1a1a1a" stroke-width="0.22">EP300</text>
<path d="M627.2 344.6 L630.7 341.2" fill="none" stroke="#1a1a1a" stroke-width="0.6"/>
<rect x="57.5" y="383.3" width="50" height="98.6" fill="#ebebeb"/>
<rect x="156" y="383.3" width="39.5" height="98.6" fill="#ebebeb"/>
<rect x="233.5" y="383.3" width="36.5" height="98.6" fill="#ebebeb"/>
<rect x="304.5" y="383.3" width="31.5" height="98.6" fill="#ebebeb"/>
<rect x="365.5" y="383.3" width="27" height="98.6" fill="#ebebeb"/>
<rect x="419.7" y="383.3" width="26.6" height="98.6" fill="#ebebeb"/>
<rect x="473.3" y="383.3" width="23.1" height="98.6" fill="#ebebeb"/>
<rect x="517.5" y="383.3" width="20.5" height="98.6" fill="#ebebeb"/>
<rect x="556.5" y="383.3" width="16.3" height="98.6" fill="#ebebeb"/>
<rect x="589.2" y="383.3" width="11.3" height="98.6" fill="#ebebeb"/>
<rect x="613.2" y="383.3" width="9.8" height="98.6" fill="#ebebeb"/>
<line x1="82.58" y1="383.3" x2="82.58" y2="481.9" stroke="#c4c4c4" stroke-width="0.7" stroke-dasharray="0.9 1.5"/>
<line x1="126.11" y1="383.3" x2="126.11" y2="481.9" stroke="#d4d4d4" stroke-width="0.7" stroke-dasharray="0.9 1.5"/>
<line x1="174.15" y1="383.3" x2="174.15" y2="481.9" stroke="#c4c4c4" stroke-width="0.7" stroke-dasharray="0.9 1.5"/>
<line x1="205.52" y1="383.3" x2="205.52" y2="481.9" stroke="#d4d4d4" stroke-width="0.7" stroke-dasharray="0.9 1.5"/>
<line x1="243.26" y1="383.3" x2="243.26" y2="481.9" stroke="#c4c4c4" stroke-width="0.7" stroke-dasharray="0.9 1.5"/>
<line x1="282.3" y1="383.3" x2="282.3" y2="481.9" stroke="#d4d4d4" stroke-width="0.7" stroke-dasharray="0.9 1.5"/>
<line x1="316.36" y1="383.3" x2="316.36" y2="481.9" stroke="#c4c4c4" stroke-width="0.7" stroke-dasharray="0.9 1.5"/>
<line x1="345.19" y1="383.3" x2="345.19" y2="481.9" stroke="#d4d4d4" stroke-width="0.7" stroke-dasharray="0.9 1.5"/>
<line x1="374.87" y1="383.3" x2="374.87" y2="481.9" stroke="#c4c4c4" stroke-width="0.7" stroke-dasharray="0.9 1.5"/>
<line x1="400.57" y1="383.3" x2="400.57" y2="481.9" stroke="#d4d4d4" stroke-width="0.7" stroke-dasharray="0.9 1.5"/>
<line x1="430.28" y1="383.3" x2="430.28" y2="481.9" stroke="#c4c4c4" stroke-width="0.7" stroke-dasharray="0.9 1.5"/>
<line x1="453.52" y1="383.3" x2="453.52" y2="481.9" stroke="#d4d4d4" stroke-width="0.7" stroke-dasharray="0.9 1.5"/>
<line x1="476.89" y1="383.3" x2="476.89" y2="481.9" stroke="#c4c4c4" stroke-width="0.7" stroke-dasharray="0.9 1.5"/>
<line x1="499.86" y1="383.3" x2="499.86" y2="481.9" stroke="#d4d4d4" stroke-width="0.7" stroke-dasharray="0.9 1.5"/>
<line x1="521.3" y1="383.3" x2="521.3" y2="481.9" stroke="#c4c4c4" stroke-width="0.7" stroke-dasharray="0.9 1.5"/>
<line x1="545.49" y1="383.3" x2="545.49" y2="481.9" stroke="#d4d4d4" stroke-width="0.7" stroke-dasharray="0.9 1.5"/>
<line x1="561.32" y1="383.3" x2="561.32" y2="481.9" stroke="#c4c4c4" stroke-width="0.7" stroke-dasharray="0.9 1.5"/>
<line x1="576.41" y1="383.3" x2="576.41" y2="481.9" stroke="#d4d4d4" stroke-width="0.7" stroke-dasharray="0.9 1.5"/>
<line x1="594.26" y1="383.3" x2="594.26" y2="481.9" stroke="#c4c4c4" stroke-width="0.7" stroke-dasharray="0.9 1.5"/>
<line x1="606.04" y1="383.3" x2="606.04" y2="481.9" stroke="#d4d4d4" stroke-width="0.7" stroke-dasharray="0.9 1.5"/>
<line x1="615.89" y1="383.3" x2="615.89" y2="481.9" stroke="#c4c4c4" stroke-width="0.7" stroke-dasharray="0.9 1.5"/>
<line x1="625.89" y1="383.3" x2="625.89" y2="481.9" stroke="#d4d4d4" stroke-width="0.7" stroke-dasharray="0.9 1.5"/>
<line x1="59.3" y1="383.9" x2="59.3" y2="417" stroke="#90dc7c" stroke-width="1" stroke-opacity="0.7"/>
<line x1="63.3" y1="383.9" x2="63.3" y2="447.6" stroke="#90dc7c" stroke-width="1" stroke-opacity="0.6"/>
<line x1="67.6" y1="383.9" x2="67.6" y2="417" stroke="#90dc7c" stroke-width="1" stroke-opacity="0.7"/>
<line x1="68.5" y1="383.9" x2="68.5" y2="400" stroke="#90dc7c" stroke-width="1" stroke-opacity="0.6"/>
<line x1="76" y1="383.9" x2="76" y2="417" stroke="#90dc7c" stroke-width="1" stroke-opacity="0.6"/>
<line x1="87.6" y1="383.9" x2="87.6" y2="465" stroke="#90dc7c" stroke-width="1" stroke-opacity="0.6"/>
<line x1="88" y1="383.9" x2="88" y2="400" stroke="#90dc7c" stroke-width="1"/>
<line x1="92.4" y1="383.9" x2="92.4" y2="399.7" stroke="#90dc7c" stroke-width="1"/>
<line x1="102.8" y1="383.9" x2="102.8" y2="399.7" stroke="#90dc7c" stroke-width="1" stroke-opacity="0.6"/>
<line x1="113.7" y1="383.9" x2="113.7" y2="465" stroke="#90dc7c" stroke-width="1" stroke-opacity="0.5"/>
<line x1="119.6" y1="383.9" x2="119.6" y2="449.7" stroke="#90dc7c" stroke-width="1" stroke-opacity="0.7"/>
<line x1="125" y1="383.9" x2="125" y2="399.7" stroke="#90dc7c" stroke-width="1" stroke-opacity="0.5"/>
<line x1="129.3" y1="383.9" x2="129.3" y2="399.7" stroke="#90dc7c" stroke-width="1" stroke-opacity="0.6"/>
<line x1="134.3" y1="383.9" x2="134.3" y2="399.7" stroke="#90dc7c" stroke-width="1" stroke-opacity="0.6"/>
<line x1="148" y1="383.9" x2="148" y2="449.7" stroke="#90dc7c" stroke-width="1" stroke-opacity="0.6"/>
<line x1="165.2" y1="383.9" x2="165.2" y2="432.3" stroke="#90dc7c" stroke-width="1" stroke-opacity="0.9"/>
<line x1="167" y1="383.9" x2="167" y2="399.7" stroke="#90dc7c" stroke-width="1" stroke-opacity="0.8"/>
<line x1="183" y1="383.9" x2="183" y2="416" stroke="#90dc7c" stroke-width="1" stroke-opacity="0.7"/>
<line x1="203.3" y1="383.9" x2="203.3" y2="465" stroke="#90dc7c" stroke-width="1" stroke-opacity="0.8"/>
<line x1="218.5" y1="383.9" x2="218.5" y2="399.7" stroke="#90dc7c" stroke-width="1" stroke-opacity="0.4"/>
<line x1="220.7" y1="383.9" x2="220.7" y2="399.7" stroke="#90dc7c" stroke-width="1" stroke-opacity="0.6"/>
<line x1="241.3" y1="383.9" x2="241.3" y2="432" stroke="#90dc7c" stroke-width="1" stroke-opacity="0.4"/>
<line x1="247.4" y1="383.9" x2="247.4" y2="399.7" stroke="#90dc7c" stroke-width="1" stroke-opacity="0.7"/>
<line x1="260.9" y1="383.9" x2="260.9" y2="399.7" stroke="#90dc7c" stroke-width="1" stroke-opacity="0.8"/>
<line x1="283.7" y1="383.9" x2="283.7" y2="399.7" stroke="#90dc7c" stroke-width="1" stroke-opacity="0.25"/>
<line x1="305.4" y1="383.9" x2="305.4" y2="432.3" stroke="#90dc7c" stroke-width="1" stroke-opacity="0.9"/>
<line x1="313" y1="383.9" x2="313" y2="416" stroke="#90dc7c" stroke-width="1" stroke-opacity="0.3"/>
<line x1="319.1" y1="383.9" x2="319.1" y2="432.3" stroke="#90dc7c" stroke-width="1" stroke-opacity="0.9"/>
<line x1="338" y1="383.9" x2="338" y2="399.7" stroke="#90dc7c" stroke-width="1" stroke-opacity="0.4"/>
<line x1="343.9" y1="383.9" x2="343.9" y2="399.7" stroke="#90dc7c" stroke-width="1" stroke-opacity="0.7"/>
<line x1="348.9" y1="383.9" x2="348.9" y2="399.7" stroke="#90dc7c" stroke-width="1" stroke-opacity="0.7"/>
<line x1="395.7" y1="383.9" x2="395.7" y2="399.7" stroke="#90dc7c" stroke-width="1" stroke-opacity="0.6"/>
<line x1="401" y1="383.9" x2="401" y2="416" stroke="#90dc7c" stroke-width="1" stroke-opacity="0.3"/>
<line x1="406" y1="383.9" x2="406" y2="416" stroke="#90dc7c" stroke-width="1" stroke-opacity="0.8"/>
<line x1="407" y1="383.9" x2="407" y2="465" stroke="#90dc7c" stroke-width="1" stroke-opacity="0.5"/>
<line x1="407.6" y1="383.9" x2="407.6" y2="416" stroke="#90dc7c" stroke-width="1" stroke-opacity="0.8"/>
<line x1="421.7" y1="383.9" x2="421.7" y2="432" stroke="#90dc7c" stroke-width="1" stroke-opacity="0.4"/>
<line x1="426.5" y1="383.9" x2="426.5" y2="416" stroke="#90dc7c" stroke-width="1" stroke-opacity="0.7"/>
<line x1="429.3" y1="383.9" x2="429.3" y2="399.7" stroke="#90dc7c" stroke-width="1" stroke-opacity="0.8"/>
<line x1="441.3" y1="383.9" x2="441.3" y2="416" stroke="#90dc7c" stroke-width="1" stroke-opacity="0.6"/>
<line x1="453" y1="383.9" x2="453" y2="399.7" stroke="#90dc7c" stroke-width="1" stroke-opacity="0.4"/>
<line x1="457.4" y1="383.9" x2="457.4" y2="399.7" stroke="#90dc7c" stroke-width="1" stroke-opacity="0.6"/>
<line x1="471" y1="383.9" x2="471" y2="416" stroke="#90dc7c" stroke-width="1" stroke-opacity="0.8"/>
<line x1="499.8" y1="383.9" x2="499.8" y2="399.7" stroke="#90dc7c" stroke-width="1" stroke-opacity="0.6"/>
<line x1="503" y1="383.9" x2="503" y2="449.7" stroke="#90dc7c" stroke-width="1" stroke-opacity="0.6"/>
<line x1="505.2" y1="383.9" x2="505.2" y2="416" stroke="#90dc7c" stroke-width="1" stroke-opacity="0.6"/>
<line x1="507.4" y1="383.9" x2="507.4" y2="399.7" stroke="#90dc7c" stroke-width="1" stroke-opacity="0.6"/>
<line x1="509.6" y1="383.9" x2="509.6" y2="399.7" stroke="#90dc7c" stroke-width="1" stroke-opacity="0.5"/>
<line x1="511.3" y1="383.9" x2="511.3" y2="449.7" stroke="#90dc7c" stroke-width="1" stroke-opacity="0.6"/>
<line x1="513.9" y1="383.9" x2="513.9" y2="399.7" stroke="#90dc7c" stroke-width="1" stroke-opacity="0.6"/>
<line x1="522.2" y1="383.9" x2="522.2" y2="399.7" stroke="#90dc7c" stroke-width="1" stroke-opacity="0.5"/>
<line x1="527" y1="383.9" x2="527" y2="399.7" stroke="#90dc7c" stroke-width="1" stroke-opacity="0.9"/>
<line x1="530.9" y1="383.9" x2="530.9" y2="432.3" stroke="#90dc7c" stroke-width="1" stroke-opacity="0.6"/>
<line x1="534.6" y1="383.9" x2="534.6" y2="399.7" stroke="#90dc7c" stroke-width="1" stroke-opacity="0.5"/>
<line x1="544.5" y1="383.9" x2="544.5" y2="399.7" stroke="#90dc7c" stroke-width="1" stroke-opacity="0.9"/>
<line x1="551.7" y1="383.9" x2="551.7" y2="432.3" stroke="#90dc7c" stroke-width="1" stroke-opacity="0.8"/>
<line x1="552.8" y1="383.9" x2="552.8" y2="399.7" stroke="#90dc7c" stroke-width="1" stroke-opacity="0.5"/>
<line x1="562.6" y1="383.9" x2="562.6" y2="399.7" stroke="#90dc7c" stroke-width="1" stroke-opacity="0.3"/>
<line x1="564.8" y1="383.9" x2="564.8" y2="399.7" stroke="#90dc7c" stroke-width="1" stroke-opacity="0.3"/>
<line x1="568" y1="383.9" x2="568" y2="432.3" stroke="#90dc7c" stroke-width="1" stroke-opacity="0.7"/>
<line x1="570.2" y1="383.9" x2="570.2" y2="399.7" stroke="#90dc7c" stroke-width="1" stroke-opacity="0.3"/>
<line x1="598.5" y1="383.9" x2="598.5" y2="432.3" stroke="#90dc7c" stroke-width="1" stroke-opacity="0.8"/>
<line x1="607.2" y1="383.9" x2="607.2" y2="399.7" stroke="#90dc7c" stroke-width="1" stroke-opacity="0.8"/>
<line x1="625.7" y1="383.9" x2="625.7" y2="399.7" stroke="#90dc7c" stroke-width="1" stroke-opacity="0.3"/>
<rect x="468.3" y="383.9" width="3.9" height="15.8" fill="#90dc7c" fill-opacity="0.4"/>
<rect x="589.8" y="383.9" width="3.7" height="65.8" fill="#90dc7c"/>
<rect x="593.5" y="383.9" width="2.5" height="48.1" fill="#90dc7c"/>
<rect x="596" y="383.9" width="3.6" height="15.8" fill="#90dc7c"/>
<rect x="616.5" y="383.9" width="6.1" height="15.8" fill="#90dc7c"/>
<line x1="107.5" y1="383.3" x2="107.5" y2="481.9" stroke="#4b4b4b" stroke-width="1"/>
<line x1="156" y1="383.3" x2="156" y2="481.9" stroke="#4b4b4b" stroke-width="1"/>
<line x1="195.5" y1="383.3" x2="195.5" y2="481.9" stroke="#4b4b4b" stroke-width="1"/>
<line x1="233.5" y1="383.3" x2="233.5" y2="481.9" stroke="#4b4b4b" stroke-width="1"/>
<line x1="270" y1="383.3" x2="270" y2="481.9" stroke="#4b4b4b" stroke-width="1"/>
<line x1="304.5" y1="383.3" x2="304.5" y2="481.9" stroke="#4b4b4b" stroke-width="1"/>
<line x1="336" y1="383.3" x2="336" y2="481.9" stroke="#4b4b4b" stroke-width="1"/>
<line x1="365.5" y1="383.3" x2="365.5" y2="481.9" stroke="#4b4b4b" stroke-width="1"/>
<line x1="392.5" y1="383.3" x2="392.5" y2="481.9" stroke="#4b4b4b" stroke-width="1"/>
<line x1="419.7" y1="383.3" x2="419.7" y2="481.9" stroke="#4b4b4b" stroke-width="1"/>
<line x1="446.3" y1="383.3" x2="446.3" y2="481.9" stroke="#4b4b4b" stroke-width="1"/>
<line x1="473.3" y1="383.3" x2="473.3" y2="481.9" stroke="#4b4b4b" stroke-width="1"/>
<line x1="496.4" y1="383.3" x2="496.4" y2="481.9" stroke="#4b4b4b" stroke-width="1"/>
<line x1="517.5" y1="383.3" x2="517.5" y2="481.9" stroke="#4b4b4b" stroke-width="1"/>
<line x1="538" y1="383.3" x2="538" y2="481.9" stroke="#4b4b4b" stroke-width="1"/>
<line x1="556.5" y1="383.3" x2="556.5" y2="481.9" stroke="#4b4b4b" stroke-width="1"/>
<line x1="572.8" y1="383.3" x2="572.8" y2="481.9" stroke="#4b4b4b" stroke-width="1"/>
<line x1="589.2" y1="383.3" x2="589.2" y2="481.9" stroke="#4b4b4b" stroke-width="1"/>
<line x1="600.5" y1="383.3" x2="600.5" y2="481.9" stroke="#4b4b4b" stroke-width="1"/>
<line x1="613.2" y1="383.3" x2="613.2" y2="481.9" stroke="#4b4b4b" stroke-width="1"/>
<line x1="623" y1="383.3" x2="623" y2="481.9" stroke="#4b4b4b" stroke-width="1"/>
<rect x="57.5" y="383.3" width="575.6" height="98.6" fill="none" stroke="#141414" stroke-width="1.3" rx="0.6"/>
<line x1="54.2" y1="383.5" x2="57.5" y2="383.5" stroke="#333" stroke-width="1"/>
<text transform="translate(52.2,387.58) scale(0.88,1)" font-size="9.8" fill="#2b2b2b" text-anchor="end" font-weight="normal" font-style="normal">0.0</text>
<line x1="54.2" y1="429.5" x2="57.5" y2="429.5" stroke="#333" stroke-width="1"/>
<text transform="translate(52.2,433.58) scale(0.88,1)" font-size="9.8" fill="#2b2b2b" text-anchor="end" font-weight="normal" font-style="normal">0.5</text>
<line x1="54.2" y1="475.4" x2="57.5" y2="475.4" stroke="#333" stroke-width="1"/>
<text transform="translate(52.2,479.48) scale(0.88,1)" font-size="9.8" fill="#2b2b2b" text-anchor="end" font-weight="normal" font-style="normal">1.0</text>
<text transform="translate(67.9,449.6) rotate(-90)" font-size="7.3" fill="#1a1a1a" text-anchor="end" font-weight="normal" font-style="italic" stroke="#1a1a1a" stroke-width="0.22">CAMTA1</text>
<path d="M64.3 449.6 L77.8 454.4" fill="none" stroke="#1a1a1a" stroke-width="0.6"/>
<text transform="translate(82.2,455.1) rotate(-90)" font-size="6.6" fill="#1a1a1a" text-anchor="end" font-weight="normal" font-style="italic" stroke="#1a1a1a" stroke-width="0.22">ARID1A</text>
<path d="M77.8 449.5 L92.5 454.4" fill="none" stroke="#1a1a1a" stroke-width="0.6"/>
<text transform="translate(96.9,455.1) rotate(-90)" font-size="6.6" fill="#1a1a1a" text-anchor="end" font-weight="normal" font-style="italic" stroke="#1a1a1a" stroke-width="0.22">RPL5</text>
<path d="M88.4 448.9 L107.1 454.7" fill="none" stroke="#1a1a1a" stroke-width="0.6"/>
<text transform="translate(112,456.5) rotate(-90)" font-size="6.6" fill="#1a1a1a" text-anchor="end" font-weight="normal" font-style="italic" stroke="#1a1a1a" stroke-width="0.22">ARNT</text>
<text transform="translate(162,455.5) rotate(-90)" font-size="6.6" fill="#4a78bb" text-anchor="end" font-weight="normal" font-style="italic" stroke="#4a78bb" stroke-width="0.22">SETD2</text>
<text transform="translate(176.7,456) rotate(-90)" font-size="6.6" fill="#4a78bb" text-anchor="end" font-weight="normal" font-style="italic" stroke="#4a78bb" stroke-width="0.22">RHOA</text>
<path d="M159.2 453.8 L164.8 449.7" fill="none" stroke="#4a78bb" stroke-width="0.6"/>
<path d="M165.8 449.7 L174.5 455.3" fill="none" stroke="#4a78bb" stroke-width="0.6"/>
<text transform="translate(200,455.5) rotate(-90)" font-size="6.6" fill="#4a78bb" text-anchor="end" font-weight="normal" font-style="italic" stroke="#4a78bb" stroke-width="0.22">RHOH</text>
<text transform="translate(215,454.8) rotate(-90)" font-size="6.6" fill="#4a78bb" text-anchor="end" font-weight="normal" font-style="italic" stroke="#4a78bb" stroke-width="0.22">N4BP2</text>
<path d="M196.5 455.3 L203.1 449.7" fill="none" stroke="#4a78bb" stroke-width="0.6"/>
<path d="M204.1 449.7 L210.3 455.3" fill="none" stroke="#4a78bb" stroke-width="0.6"/>
<text transform="translate(389.3,456) rotate(-90)" font-size="6.6" fill="#1a1a1a" text-anchor="end" font-weight="normal" font-style="italic" stroke="#1a1a1a" stroke-width="0.22">TET1</text>
<path d="M386.4 456 L406.3 449.6" fill="none" stroke="#1a1a1a" stroke-width="0.6"/>
<text transform="translate(402.8,454.3) rotate(-90)" font-size="6.6" fill="#1a1a1a" text-anchor="end" font-weight="normal" font-style="italic" stroke="#1a1a1a" stroke-width="0.22">KAT6B</text>
<path d="M402 452 L406.3 449.6" fill="none" stroke="#1a1a1a" stroke-width="0.6"/>
<text transform="translate(416.8,454.9) rotate(-90)" font-size="6.6" fill="#1a1a1a" text-anchor="end" font-weight="normal" font-style="italic" stroke="#1a1a1a" stroke-width="0.22">NFKB2</text>
<text transform="translate(430.2,456.6) rotate(-90)" font-size="6.6" fill="#1a1a1a" text-anchor="end" font-weight="normal" font-style="italic" stroke="#1a1a1a" stroke-width="0.22">SUFU</text>
<path d="M414.5 449.6 L427.9 456.6" fill="none" stroke="#1a1a1a" stroke-width="0.6"/>
<text transform="translate(444.2,456.6) rotate(-90)" font-size="6.6" fill="#4a78bb" text-anchor="end" font-weight="normal" font-style="italic" stroke="#4a78bb" stroke-width="0.22">WT1</text>
<path d="M427.3 450.2 L440.7 457.2" fill="none" stroke="#4a78bb" stroke-width="0.6"/>
<text transform="translate(457.7,456) rotate(-90)" font-size="6.6" fill="#4a78bb" text-anchor="end" font-weight="normal" font-style="italic" stroke="#4a78bb" stroke-width="0.22">ATM</text>
<path d="M441.9 450.2 L454.8 457.2" fill="none" stroke="#4a78bb" stroke-width="0.6"/>
<text transform="translate(479.7,455) rotate(-90)" font-size="6.6" fill="#4a78bb" text-anchor="end" font-weight="normal" font-style="italic" stroke="#4a78bb" stroke-width="0.22">BAZ1A</text>
<path d="M476.6 453.9 L501.8 449.3" fill="none" stroke="#4a78bb" stroke-width="0.6"/>
<text transform="translate(493.3,455.2) rotate(-90)" font-size="6.6" fill="#4a78bb" text-anchor="end" font-weight="normal" font-style="italic" stroke="#4a78bb" stroke-width="0.22">B2M</text>
<path d="M492.2 457.3 L517.2 449.7" fill="none" stroke="#4a78bb" stroke-width="0.6"/>
<text transform="translate(507.4,453) rotate(-90)" font-size="6.6" fill="#4a78bb" text-anchor="end" font-weight="normal" font-style="italic" stroke="#4a78bb" stroke-width="0.22">KNL1</text>
<path d="M505.2 454.1 L524.8 449.3" fill="none" stroke="#4a78bb" stroke-width="0.6"/>
<text transform="translate(521.2,456.2) rotate(-90)" font-size="6.6" fill="#1a1a1a" text-anchor="end" font-weight="normal" font-style="italic" stroke="#1a1a1a" stroke-width="0.22">FES</text>
<path d="M518.7 457 L535.2 449.9" fill="none" stroke="#1a1a1a" stroke-width="0.6"/>
<text transform="translate(534.4,456.4) rotate(-90)" font-size="6.6" fill="#1a1a1a" text-anchor="end" font-weight="normal" font-style="italic" stroke="#1a1a1a" stroke-width="0.22">BLM</text>
<path d="M533 455.6 L535.2 449.9" fill="none" stroke="#1a1a1a" stroke-width="0.6"/>
<text transform="translate(549.4,454.5) rotate(-90)" font-size="6.6" fill="#4a78bb" text-anchor="end" font-weight="normal" font-style="italic" stroke="#4a78bb" stroke-width="0.22">CBFB</text>
<path d="M547.4 454.3 L551.8 449.3" fill="none" stroke="#4a78bb" stroke-width="0.6"/>
<text transform="translate(563.3,455.3) rotate(-90)" font-size="6.6" fill="#4a78bb" text-anchor="end" font-weight="normal" font-style="italic" stroke="#4a78bb" stroke-width="0.22">CTCF</text>
<path d="M551.8 449.3 L560.5 455" fill="none" stroke="#4a78bb" stroke-width="0.6"/>
<path d="M551.8 449.3 L572.9 455.5" fill="none" stroke="#4a78bb" stroke-width="0.6"/>
<text transform="translate(577.2,455.8) rotate(-90)" font-size="6.6" fill="#4a78bb" text-anchor="end" font-weight="normal" font-style="italic" stroke="#4a78bb" stroke-width="0.22">CDH1</text>
<text transform="translate(590.9,455) rotate(-90)" font-size="6.6" fill="#1a1a1a" text-anchor="end" font-weight="normal" font-style="italic" stroke="#1a1a1a" stroke-width="0.22">BRIP1</text>
<path d="M569.2 449.3 L588.4 454.9" fill="none" stroke="#1a1a1a" stroke-width="0.6"/>
<text transform="translate(605.2,455.6) rotate(-90)" font-size="6.6" fill="#4a78bb" text-anchor="end" font-weight="normal" font-style="italic" stroke="#4a78bb" stroke-width="0.22">CLTC</text>
<path d="M569.8 449.3 L600.8 456.1" fill="none" stroke="#4a78bb" stroke-width="0.6"/>
<text transform="translate(620,455.6) rotate(-90)" font-size="6.6" fill="#1a1a1a" text-anchor="end" font-weight="normal" font-style="italic" stroke="#1a1a1a" stroke-width="0.22">ASXL1</text>
<path d="M606.4 449.6 L615.7 454.7" fill="none" stroke="#1a1a1a" stroke-width="0.6"/>
<defs><linearGradient id="gr" x1="0" y1="0" x2="0" y2="1"><stop offset="0" stop-color="#ae1f25"/><stop offset="1" stop-color="#ffffff"/></linearGradient><linearGradient id="gb" x1="0" y1="0" x2="0" y2="1"><stop offset="0" stop-color="#3561a7"/><stop offset="1" stop-color="#ffffff"/></linearGradient></defs>
<rect x="646.4" y="220.4" width="10.6" height="57" fill="url(#gr)" rx="0.8"/>
<rect x="659.9" y="220.4" width="10.1" height="57" fill="url(#gb)" rx="0.8"/>
<line x1="646.4" y1="277.4" x2="648.4" y2="277.4" stroke="#fff" stroke-width="0.8"/>
<line x1="655" y1="277.4" x2="657" y2="277.4" stroke="#fff" stroke-width="0.8"/>
<line x1="659.9" y1="277.4" x2="661.9" y2="277.4" stroke="#fff" stroke-width="0.8"/>
<line x1="668" y1="277.4" x2="670" y2="277.4" stroke="#fff" stroke-width="0.8"/>
<text x="672" y="280.42" font-size="8.4" fill="#333" text-anchor="start" font-weight="normal" font-style="normal">0</text>
<line x1="646.4" y1="263.15" x2="648.4" y2="263.15" stroke="#fff" stroke-width="0.8"/>
<line x1="655" y1="263.15" x2="657" y2="263.15" stroke="#fff" stroke-width="0.8"/>
<line x1="659.9" y1="263.15" x2="661.9" y2="263.15" stroke="#fff" stroke-width="0.8"/>
<line x1="668" y1="263.15" x2="670" y2="263.15" stroke="#fff" stroke-width="0.8"/>
<text x="672" y="266.17" font-size="8.4" fill="#333" text-anchor="start" font-weight="normal" font-style="normal">1</text>
<line x1="646.4" y1="248.9" x2="648.4" y2="248.9" stroke="#fff" stroke-width="0.8"/>
<line x1="655" y1="248.9" x2="657" y2="248.9" stroke="#fff" stroke-width="0.8"/>
<line x1="659.9" y1="248.9" x2="661.9" y2="248.9" stroke="#fff" stroke-width="0.8"/>
<line x1="668" y1="248.9" x2="670" y2="248.9" stroke="#fff" stroke-width="0.8"/>
<text x="672" y="251.92" font-size="8.4" fill="#333" text-anchor="start" font-weight="normal" font-style="normal">2</text>
<line x1="646.4" y1="234.65" x2="648.4" y2="234.65" stroke="#fff" stroke-width="0.8"/>
<line x1="655" y1="234.65" x2="657" y2="234.65" stroke="#fff" stroke-width="0.8"/>
<line x1="659.9" y1="234.65" x2="661.9" y2="234.65" stroke="#fff" stroke-width="0.8"/>
<line x1="668" y1="234.65" x2="670" y2="234.65" stroke="#fff" stroke-width="0.8"/>
<text x="672" y="237.67" font-size="8.4" fill="#333" text-anchor="start" font-weight="normal" font-style="normal">3</text>
<line x1="646.4" y1="220.4" x2="648.4" y2="220.4" stroke="#fff" stroke-width="0.8"/>
<line x1="655" y1="220.4" x2="657" y2="220.4" stroke="#fff" stroke-width="0.8"/>
<line x1="659.9" y1="220.4" x2="661.9" y2="220.4" stroke="#fff" stroke-width="0.8"/>
<line x1="668" y1="220.4" x2="670" y2="220.4" stroke="#fff" stroke-width="0.8"/>
<text x="672" y="223.42" font-size="8.4" fill="#333" text-anchor="start" font-weight="normal" font-style="normal">4</text>
<text x="638.2" y="214.8" font-size="8.7" fill="#1a1a1a">log(<tspan font-style="italic">Q</tspan> value)</text>
</svg>
</body></html>
